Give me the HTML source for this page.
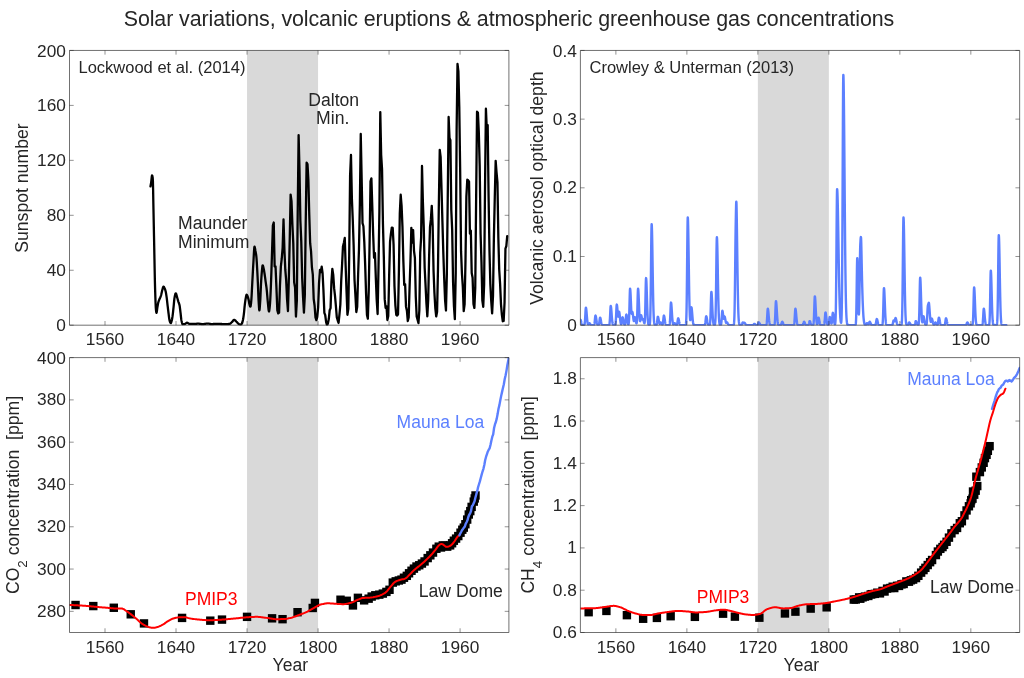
<!DOCTYPE html>
<html lang="en"><head><meta charset="utf-8"><title>Solar variations, volcanic eruptions &amp; atmospheric greenhouse gas concentrations</title>
<style>
html,body{margin:0;padding:0;background:#fff;}
body{width:1024px;height:678px;overflow:hidden;}
svg{display:block;font-family:"Liberation Sans",Arial,Helvetica,sans-serif;}
</style></head><body>
<svg width="1024" height="678" viewBox="0 0 1024 678">
<rect width="1024" height="678" fill="#fff"/>
<g>
<clipPath id="c0"><rect x="69.50" y="50.15" width="439.70" height="275.35"/></clipPath>
<rect x="247.04" y="50.45" width="71.01" height="274.75" fill="#d9d9d9"/>
<g clip-path="url(#c0)" fill="none" stroke-linejoin="round" stroke-linecap="round">
<path d="M150.46,186.45 L150.68,185.29 L150.90,184.01 L151.12,182.62 L151.34,180.87 L151.57,178.61 L151.79,176.58 L152.01,175.50 L152.23,175.65 L152.45,176.39 L152.68,177.61 L152.90,180.80 L153.12,190.47 L153.34,202.90 L153.56,214.04 L153.78,225.03 L154.01,236.30 L154.23,247.46 L154.45,258.73 L154.67,270.41 L154.89,281.15 L155.12,289.60 L155.34,296.82 L155.56,303.08 L155.78,307.58 L156.00,310.05 L156.23,311.89 L156.45,312.81 L156.67,312.43 L156.89,311.07 L157.11,309.28 L157.34,307.61 L157.56,306.29 L157.78,304.97 L158.00,303.73 L158.22,302.71 L158.45,301.91 L158.67,301.24 L158.89,300.64 L159.11,300.09 L159.33,299.54 L159.55,298.99 L159.78,298.45 L160.00,297.95 L160.22,297.47 L160.44,296.96 L160.66,296.41 L160.89,295.80 L161.11,295.06 L161.33,294.16 L161.55,293.17 L161.77,292.16 L162.00,291.19 L162.22,290.32 L162.44,289.53 L162.66,288.68 L162.88,287.86 L163.11,287.17 L163.33,286.72 L163.55,286.60 L163.77,286.74 L163.99,287.04 L164.22,287.45 L164.44,287.91 L164.66,288.38 L164.88,288.89 L165.10,289.49 L165.32,290.18 L165.55,290.98 L165.77,291.87 L165.99,292.99 L166.21,294.33 L166.43,295.82 L166.66,297.40 L166.88,299.11 L167.10,301.03 L167.32,303.05 L167.54,305.04 L167.77,306.93 L167.99,308.83 L168.21,310.69 L168.43,312.49 L168.65,314.22 L168.88,316.04 L169.10,317.81 L169.32,319.33 L169.54,320.39 L169.76,321.14 L169.99,321.82 L170.21,322.41 L170.43,322.84 L170.65,323.10 L170.87,323.10 L171.09,322.74 L171.32,322.08 L171.54,321.25 L171.76,320.39 L171.98,319.44 L172.20,318.27 L172.43,316.93 L172.65,315.45 L172.87,313.71 L173.09,311.67 L173.31,309.49 L173.54,307.34 L173.76,305.06 L173.98,302.60 L174.20,300.28 L174.42,298.41 L174.65,297.14 L174.87,295.99 L175.09,294.94 L175.31,294.10 L175.53,293.54 L175.75,293.33 L175.98,293.50 L176.20,293.98 L176.42,294.67 L176.64,295.50 L176.86,296.38 L177.09,297.24 L177.31,298.01 L177.53,298.75 L177.75,299.53 L177.97,300.32 L178.20,301.10 L178.42,301.85 L178.64,302.51 L178.86,303.10 L179.08,303.70 L179.31,304.38 L179.53,305.22 L179.75,306.40 L179.97,308.03 L180.19,309.90 L180.42,311.79 L180.64,313.69 L180.86,315.83 L181.08,317.91 L181.30,319.64 L181.52,320.80 L181.75,321.80 L181.97,322.71 L182.19,323.46 L182.41,323.99 L182.63,324.23 L182.86,324.24 L183.08,324.23 L183.30,324.21 L183.52,324.19 L183.74,324.16 L183.97,324.13 L184.19,324.10 L184.41,324.06 L184.63,324.02 L184.85,323.97 L185.08,323.91 L185.30,323.80 L185.52,323.65 L185.74,323.47 L185.96,323.29 L186.19,323.11 L186.41,322.96 L186.63,322.83 L186.85,322.75 L187.07,322.73 L187.29,322.77 L187.52,322.85 L187.74,322.97 L187.96,323.11 L188.18,323.26 L188.40,323.41 L188.63,323.56 L188.85,323.68 L189.07,323.77 L189.29,323.82 L189.51,323.84 L189.74,323.85 L189.96,323.86 L190.18,323.87 L190.40,323.89 L190.62,323.90 L190.85,323.91 L191.07,323.91 L191.29,323.92 L191.51,323.93 L191.73,323.94 L191.96,323.94 L192.18,323.95 L192.40,323.95 L192.62,323.95 L192.84,323.96 L193.06,323.96 L193.29,323.96 L193.51,323.96 L193.73,323.96 L193.95,323.96 L194.17,323.96 L194.40,323.95 L194.62,323.94 L194.84,323.92 L195.06,323.91 L195.28,323.89 L195.51,323.87 L195.73,323.85 L195.95,323.83 L196.17,323.81 L196.39,323.79 L196.62,323.77 L196.84,323.75 L197.06,323.73 L197.28,323.72 L197.50,323.71 L197.72,323.70 L197.95,323.69 L198.17,323.69 L198.39,323.69 L198.61,323.70 L198.83,323.71 L199.06,323.73 L199.28,323.75 L199.50,323.77 L199.72,323.80 L199.94,323.83 L200.17,323.86 L200.39,323.89 L200.61,323.92 L200.83,323.95 L201.05,323.98 L201.28,324.01 L201.50,324.03 L201.72,324.05 L201.94,324.07 L202.16,324.09 L202.39,324.10 L202.61,324.10 L202.83,324.10 L203.05,324.09 L203.27,324.08 L203.49,324.06 L203.72,324.04 L203.94,324.02 L204.16,323.99 L204.38,323.96 L204.60,323.93 L204.83,323.90 L205.05,323.87 L205.27,323.83 L205.49,323.80 L205.71,323.76 L205.94,323.73 L206.16,323.70 L206.38,323.67 L206.60,323.64 L206.82,323.62 L207.05,323.60 L207.27,323.58 L207.49,323.56 L207.71,323.56 L207.93,323.55 L208.16,323.56 L208.38,323.57 L208.60,323.60 L208.82,323.63 L209.04,323.67 L209.26,323.72 L209.49,323.76 L209.71,323.82 L209.93,323.87 L210.15,323.92 L210.37,323.96 L210.60,324.01 L210.82,324.04 L211.04,324.07 L211.26,324.09 L211.48,324.10 L211.71,324.10 L211.93,324.09 L212.15,324.09 L212.37,324.08 L212.59,324.06 L212.82,324.05 L213.04,324.03 L213.26,324.01 L213.48,323.99 L213.70,323.97 L213.93,323.95 L214.15,323.93 L214.37,323.91 L214.59,323.89 L214.81,323.87 L215.03,323.86 L215.26,323.85 L215.48,323.84 L215.70,323.83 L215.92,323.83 L216.14,323.83 L216.37,323.83 L216.59,323.83 L216.81,323.84 L217.03,323.84 L217.25,323.85 L217.48,323.85 L217.70,323.86 L217.92,323.87 L218.14,323.88 L218.36,323.88 L218.59,323.89 L218.81,323.90 L219.03,323.91 L219.25,323.92 L219.47,323.93 L219.69,323.94 L219.92,323.95 L220.14,323.95 L220.36,323.96 L220.58,323.97 L220.80,323.98 L221.03,323.99 L221.25,323.99 L221.47,324.00 L221.69,324.01 L221.91,324.02 L222.14,324.03 L222.36,324.04 L222.58,324.05 L222.80,324.06 L223.02,324.06 L223.25,324.07 L223.47,324.08 L223.69,324.08 L223.91,324.09 L224.13,324.09 L224.36,324.10 L224.58,324.10 L224.80,324.10 L225.02,324.10 L225.24,324.10 L225.46,324.10 L225.69,324.10 L225.91,324.09 L226.13,324.09 L226.35,324.09 L226.57,324.08 L226.80,324.08 L227.02,324.07 L227.24,324.06 L227.46,324.05 L227.68,324.05 L227.91,324.04 L228.13,324.03 L228.35,324.02 L228.57,324.00 L228.79,323.99 L229.02,323.98 L229.24,323.97 L229.46,323.94 L229.68,323.87 L229.90,323.78 L230.13,323.65 L230.35,323.49 L230.57,323.32 L230.79,323.12 L231.01,322.92 L231.23,322.70 L231.46,322.48 L231.68,322.27 L231.90,322.05 L232.12,321.84 L232.34,321.64 L232.57,321.38 L232.79,321.09 L233.01,320.78 L233.23,320.48 L233.45,320.22 L233.68,320.01 L233.90,319.88 L234.12,319.84 L234.34,319.88 L234.56,319.97 L234.79,320.10 L235.01,320.26 L235.23,320.45 L235.45,320.66 L235.67,320.88 L235.90,321.11 L236.12,321.34 L236.34,321.56 L236.56,321.77 L236.78,321.97 L237.00,322.20 L237.23,322.44 L237.45,322.69 L237.67,322.94 L237.89,323.18 L238.11,323.41 L238.34,323.62 L238.56,323.79 L238.78,323.95 L239.00,324.12 L239.22,324.28 L239.45,324.43 L239.67,324.57 L239.89,324.68 L240.11,324.75 L240.33,324.79 L240.56,324.77 L240.78,324.68 L241.00,324.54 L241.22,324.35 L241.44,324.11 L241.66,323.84 L241.89,323.55 L242.11,323.12 L242.33,322.48 L242.55,321.67 L242.77,320.77 L243.00,319.77 L243.22,318.56 L243.44,317.13 L243.66,315.56 L243.88,313.85 L244.11,311.77 L244.33,309.40 L244.55,307.06 L244.77,305.05 L244.99,303.24 L245.22,301.54 L245.44,299.99 L245.66,298.65 L245.88,297.43 L246.10,296.20 L246.33,295.21 L246.55,294.72 L246.77,294.76 L246.99,295.00 L247.21,295.38 L247.43,295.89 L247.66,296.49 L247.88,297.17 L248.10,297.90 L248.32,298.65 L248.54,299.44 L248.77,300.55 L248.99,301.87 L249.21,303.19 L249.43,304.27 L249.65,305.02 L249.88,305.72 L250.10,306.30 L250.32,306.62 L250.54,306.45 L250.76,305.33 L250.99,303.52 L251.21,301.36 L251.43,298.87 L251.65,295.24 L251.87,290.86 L252.10,286.30 L252.32,282.08 L252.54,277.98 L252.76,273.82 L252.98,269.70 L253.20,265.73 L253.43,262.01 L253.65,258.05 L253.87,253.80 L254.09,249.99 L254.31,247.37 L254.54,246.64 L254.76,247.15 L254.98,248.18 L255.20,249.48 L255.42,250.78 L255.65,251.93 L255.87,253.10 L256.09,254.46 L256.31,256.13 L256.53,258.50 L256.76,261.85 L256.98,265.72 L257.20,269.66 L257.42,273.78 L257.64,278.21 L257.87,282.89 L258.09,288.25 L258.31,294.09 L258.53,299.38 L258.75,303.29 L258.97,306.87 L259.20,309.56 L259.42,310.32 L259.64,308.99 L259.86,306.35 L260.08,303.13 L260.31,299.62 L260.53,294.81 L260.75,289.45 L260.97,284.52 L261.19,280.68 L261.42,277.22 L261.64,274.17 L261.86,271.62 L262.08,269.26 L262.30,267.05 L262.53,265.59 L262.75,265.35 L262.97,265.76 L263.19,266.52 L263.41,267.47 L263.63,268.48 L263.86,269.50 L264.08,270.70 L264.30,272.07 L264.52,273.54 L264.74,275.03 L264.97,276.57 L265.19,278.22 L265.41,279.92 L265.63,281.60 L265.85,283.19 L266.08,284.72 L266.30,286.27 L266.52,287.95 L266.74,289.89 L266.96,292.22 L267.19,294.82 L267.41,297.48 L267.63,300.03 L267.85,302.28 L268.07,304.64 L268.30,307.10 L268.52,309.29 L268.74,310.86 L268.96,311.46 L269.18,310.96 L269.40,309.64 L269.63,307.74 L269.85,305.52 L270.07,302.96 L270.29,299.25 L270.51,294.61 L270.74,289.40 L270.96,283.97 L271.18,278.25 L271.40,271.76 L271.62,264.85 L271.85,257.88 L272.07,251.04 L272.29,244.11 L272.51,237.08 L272.73,229.95 L272.87,225.62 L273.75,222.54 L274.64,266.49 L275.53,266.36 L276.42,287.41 L277.31,310.18 L278.19,313.38 L279.08,312.65 L279.97,285.32 L280.86,266.61 L281.74,258.73 L282.63,247.78 L283.52,219.47 L284.41,249.87 L285.29,269.69 L286.18,280.40 L287.07,299.47 L287.96,311.17 L288.84,278.67 L289.73,239.28 L290.62,194.60 L291.51,201.13 L292.40,224.76 L293.28,243.35 L294.17,282.37 L295.06,287.54 L295.95,316.58 L296.83,300.83 L297.72,211.34 L298.61,135.15 L299.50,170.23 L300.38,220.82 L301.27,241.38 L302.16,277.81 L303.05,297.14 L303.94,312.65 L304.82,295.54 L305.71,223.16 L306.60,162.72 L307.49,164.08 L308.37,179.83 L309.26,214.54 L310.15,243.22 L311.04,251.35 L311.92,267.47 L312.81,274.73 L313.70,298.98 L314.59,305.51 L315.48,317.32 L316.36,320.15 L317.25,316.83 L318.14,307.35 L319.03,283.35 L319.91,269.81 L320.80,272.15 L321.69,266.73 L322.58,273.26 L323.46,290.61 L324.35,312.77 L325.24,315.23 L326.13,322.12 L327.02,325.20 L327.90,323.48 L328.79,319.05 L329.68,310.18 L330.57,308.09 L331.45,281.63 L332.34,268.83 L333.23,274.61 L334.12,288.15 L335.00,295.78 L335.89,306.00 L336.78,317.08 L337.67,320.28 L338.55,322.98 L339.44,314.74 L340.33,304.77 L341.22,280.52 L342.11,264.15 L342.99,246.18 L343.88,242.73 L344.77,237.93 L345.66,266.36 L346.54,291.35 L347.43,314.74 L348.32,308.95 L349.21,255.16 L350.09,175.65 L350.98,154.97 L351.87,198.17 L352.76,219.71 L353.65,245.69 L354.53,280.03 L355.42,295.41 L356.31,312.03 L357.20,306.74 L358.08,275.84 L358.97,249.50 L359.86,203.96 L360.75,134.02 L361.63,177.56 L362.52,223.10 L363.41,226.31 L364.30,242.26 L365.19,265.41 L366.07,293.62 L366.96,314.93 L367.85,318.61 L368.74,290.40 L369.62,241.19 L370.51,181.39 L371.40,178.33 L372.29,206.84 L373.17,234.59 L374.06,257.74 L374.95,253.14 L375.84,278.44 L376.72,300.21 L377.61,314.01 L378.50,267.56 L379.39,211.75 L380.28,112.10 L381.16,154.72 L382.05,169.44 L382.94,223.71 L383.83,256.67 L384.71,299.14 L385.60,307.88 L386.49,306.19 L387.38,319.99 L388.26,316.00 L389.15,275.68 L390.04,241.95 L390.93,233.67 L391.82,227.54 L392.70,227.85 L393.59,245.17 L394.48,286.26 L395.37,305.12 L396.25,314.77 L397.14,315.54 L398.03,314.31 L398.92,270.62 L399.80,213.28 L400.69,194.73 L401.58,205.62 L402.47,227.08 L403.36,261.12 L404.24,285.03 L405.13,284.27 L406.02,306.65 L406.91,310.64 L407.79,321.06 L408.68,317.53 L409.57,287.79 L410.46,260.81 L411.34,227.85 L412.23,242.72 L413.12,230.15 L414.01,250.84 L414.90,257.90 L415.78,296.68 L416.67,316.46 L417.56,319.68 L418.45,323.05 L419.33,310.48 L420.22,252.53 L421.11,237.66 L422.00,165.91 L422.88,201.63 L423.77,227.69 L424.66,267.56 L425.55,285.19 L426.43,303.43 L427.32,316.31 L428.21,299.60 L429.10,257.28 L429.99,227.23 L430.87,219.42 L431.76,205.92 L432.65,225.70 L433.54,270.47 L434.42,292.70 L435.31,308.18 L436.20,316.46 L437.09,311.86 L437.97,269.85 L438.86,203.01 L439.75,149.81 L440.64,157.17 L441.53,189.06 L442.41,221.26 L443.30,252.38 L444.19,278.29 L445.08,300.21 L445.96,310.48 L446.85,274.30 L447.74,197.99 L448.63,116.94 L449.51,137.96 L450.40,140.16 L451.29,209.94 L452.18,229.86 L453.07,281.93 L453.95,306.10 L454.84,319.16 L455.73,273.00 L456.62,130.54 L457.50,63.91 L458.39,71.33 L459.28,106.77 L460.17,170.93 L461.05,251.15 L461.94,273.55 L462.83,286.87 L463.72,311.19 L464.60,304.46 L465.49,260.63 L466.38,196.34 L467.27,179.72 L468.16,180.27 L469.04,181.64 L469.93,233.71 L470.82,230.55 L471.71,273.00 L472.59,277.81 L473.48,303.91 L474.37,307.89 L475.26,287.42 L476.14,198.13 L477.03,111.72 L477.92,112.82 L478.81,132.33 L479.70,165.98 L480.58,233.71 L481.47,262.14 L482.36,300.61 L483.25,306.79 L484.13,284.81 L485.02,187.55 L485.91,108.70 L486.80,129.30 L487.68,125.04 L488.57,195.66 L489.46,250.19 L490.35,284.12 L491.24,301.16 L492.12,313.39 L493.01,295.66 L493.90,236.87 L494.79,197.03 L495.67,160.90 L496.56,172.71 L497.45,182.33 L498.34,237.69 L499.22,269.70 L500.11,284.26 L501.00,304.32 L501.89,314.90 L502.78,321.22 L503.66,320.94 L504.55,302.53 L505.44,248.68 L506.33,246.07 L507.21,236.04" stroke="#000" stroke-width="2.3"/>
</g>
<path d="M69.50,50.45 H508.90 V325.20 H69.50 Z" fill="none" stroke="#262626" stroke-width="0.66"/>
<path d=" M105.01,325.20 v-4.20 M105.01,50.45 v4.20 M176.02,325.20 v-4.20 M176.02,50.45 v4.20 M247.04,325.20 v-4.20 M247.04,50.45 v4.20 M318.05,325.20 v-4.20 M318.05,50.45 v4.20 M389.06,325.20 v-4.20 M389.06,50.45 v4.20 M460.08,325.20 v-4.20 M460.08,50.45 v4.20 M69.50,325.20 h4.20 M508.90,325.20 h-4.20 M69.50,270.25 h4.20 M508.90,270.25 h-4.20 M69.50,215.30 h4.20 M508.90,215.30 h-4.20 M69.50,160.35 h4.20 M508.90,160.35 h-4.20 M69.50,105.40 h4.20 M508.90,105.40 h-4.20 M69.50,50.45 h4.20 M508.90,50.45 h-4.20" fill="none" stroke="#262626" stroke-width="0.5"/>
<g font-size="17.3" fill="#262626">
<text x="105.01" y="345.40" text-anchor="middle">1560</text>
<text x="176.02" y="345.40" text-anchor="middle">1640</text>
<text x="247.04" y="345.40" text-anchor="middle">1720</text>
<text x="318.05" y="345.40" text-anchor="middle">1800</text>
<text x="389.06" y="345.40" text-anchor="middle">1880</text>
<text x="460.08" y="345.40" text-anchor="middle">1960</text>
<text x="65.90" y="330.70" text-anchor="end">0</text>
<text x="65.90" y="275.75" text-anchor="end">40</text>
<text x="65.90" y="220.80" text-anchor="end">80</text>
<text x="65.90" y="165.85" text-anchor="end">120</text>
<text x="65.90" y="110.90" text-anchor="end">160</text>
<text x="65.90" y="56.75" text-anchor="end">200</text>
</g>
</g>
<g>
<clipPath id="c1"><rect x="580.40" y="50.15" width="439.55" height="275.35"/></clipPath>
<rect x="757.87" y="50.45" width="70.99" height="274.75" fill="#d9d9d9"/>
<g clip-path="url(#c1)" fill="none" stroke-linejoin="round" stroke-linecap="round">
<path d="M580.40,319.70 L580.49,319.74 L580.58,319.83 L580.67,319.97 L580.75,320.17 L580.84,320.42 L580.93,320.70 L581.02,321.01 L581.11,321.35 L581.20,321.69 L581.29,322.04 L581.38,322.39 L581.46,322.73 L581.55,323.05 L581.64,323.34 L581.73,323.62 L581.82,323.87 L581.91,324.09 L582.00,324.29 L582.09,324.46 L582.17,324.60 L582.26,324.72 L582.35,324.82 L582.44,324.91 L582.53,324.97 L582.62,325.03 L582.71,325.07 L582.80,325.10 L582.88,325.13 L582.97,325.15 L583.06,325.16 L583.15,325.17 L583.24,325.18 L583.33,325.19 L583.42,325.19 L583.51,325.19 L583.59,325.19 L583.68,325.19 L583.77,325.19 L583.86,325.18 L583.95,325.17 L584.04,325.14 L584.13,325.10 L584.22,325.04 L584.30,324.94 L584.39,324.79 L584.48,324.57 L584.57,324.26 L584.66,323.83 L584.75,323.26 L584.84,322.51 L584.93,321.57 L585.01,320.43 L585.10,319.09 L585.19,317.58 L585.28,315.94 L585.37,314.23 L585.46,312.55 L585.55,310.98 L585.64,309.62 L585.72,308.57 L585.81,307.91 L585.90,307.68 L585.99,307.78 L586.08,308.07 L586.17,308.54 L586.26,309.17 L586.35,309.95 L586.43,310.85 L586.52,311.85 L586.61,312.91 L586.70,314.02 L586.79,315.13 L586.88,316.24 L586.97,317.31 L587.06,318.33 L587.14,319.29 L587.23,320.16 L587.32,320.96 L587.41,321.66 L587.50,322.28 L587.59,322.81 L587.68,323.26 L587.77,323.63 L587.85,323.93 L587.94,324.16 L588.03,324.32 L588.12,324.42 L588.21,324.47 L588.30,324.46 L588.39,324.41 L588.48,324.32 L588.56,324.18 L588.65,324.03 L588.74,323.85 L588.83,323.67 L588.92,323.50 L589.01,323.35 L589.10,323.23 L589.18,323.16 L589.27,323.13 L589.36,323.15 L589.45,323.18 L589.54,323.24 L589.63,323.31 L589.72,323.41 L589.81,323.51 L589.89,323.63 L589.98,323.75 L590.07,323.88 L590.16,324.02 L590.25,324.15 L590.34,324.27 L590.43,324.39 L590.52,324.50 L590.60,324.61 L590.69,324.70 L590.78,324.78 L590.87,324.86 L590.96,324.92 L591.05,324.98 L591.14,325.02 L591.23,325.06 L591.31,325.09 L591.40,325.12 L591.49,325.14 L591.58,325.15 L591.67,325.16 L591.76,325.17 L591.85,325.18 L591.94,325.19 L592.02,325.19 L592.11,325.19 L592.20,325.20 L592.29,325.20 L592.38,325.20 L592.47,325.20 L592.56,325.20 L592.65,325.20 L592.73,325.20 L592.82,325.20 L592.91,325.20 L593.00,325.20 L593.09,325.20 L593.18,325.20 L593.27,325.20 L593.36,325.19 L593.44,325.19 L593.53,325.18 L593.62,325.17 L593.71,325.15 L593.80,325.11 L593.89,325.06 L593.98,324.98 L594.07,324.86 L594.15,324.68 L594.24,324.45 L594.33,324.13 L594.42,323.72 L594.51,323.21 L594.60,322.58 L594.69,321.85 L594.78,321.02 L594.86,320.12 L594.95,319.18 L595.04,318.25 L595.13,317.39 L595.22,316.65 L595.31,316.07 L595.40,315.71 L595.49,315.58 L595.57,315.64 L595.66,315.79 L595.75,316.05 L595.84,316.40 L595.93,316.83 L596.02,317.32 L596.11,317.87 L596.20,318.45 L596.28,319.06 L596.37,319.67 L596.46,320.28 L596.55,320.87 L596.64,321.43 L596.73,321.95 L596.82,322.44 L596.91,322.87 L596.99,323.26 L597.08,323.60 L597.17,323.90 L597.26,324.15 L597.35,324.36 L597.44,324.54 L597.53,324.69 L597.62,324.80 L597.70,324.90 L597.79,324.97 L597.88,325.03 L597.97,325.07 L598.06,325.10 L598.15,325.12 L598.24,325.13 L598.32,325.13 L598.41,325.11 L598.50,325.07 L598.59,325.01 L598.68,324.92 L598.77,324.79 L598.86,324.61 L598.95,324.36 L599.03,324.04 L599.12,323.63 L599.21,323.14 L599.30,322.57 L599.39,321.91 L599.48,321.21 L599.57,320.47 L599.66,319.74 L599.74,319.06 L599.83,318.48 L599.92,318.03 L600.01,317.74 L600.10,317.64 L600.19,317.69 L600.28,317.81 L600.37,318.01 L600.45,318.29 L600.54,318.62 L600.63,319.01 L600.72,319.44 L600.81,319.90 L600.90,320.38 L600.99,320.86 L601.08,321.34 L601.16,321.80 L601.25,322.24 L601.34,322.65 L601.43,323.03 L601.52,323.37 L601.61,323.68 L601.70,323.94 L601.79,324.18 L601.87,324.38 L601.96,324.54 L602.05,324.68 L602.14,324.80 L602.23,324.89 L602.32,324.96 L602.41,325.02 L602.50,325.07 L602.58,325.10 L602.67,325.13 L602.76,325.15 L602.85,325.16 L602.94,325.17 L603.03,325.18 L603.12,325.19 L603.21,325.19 L603.29,325.19 L603.38,325.20 L603.47,325.20 L603.56,325.20 L603.65,325.20 L603.74,325.20 L603.83,325.20 L603.92,325.20 L604.00,325.20 L604.09,325.20 L604.18,325.20 L604.27,325.20 L604.36,325.20 L604.45,325.20 L604.54,325.20 L604.63,325.20 L604.71,325.20 L604.80,325.20 L604.89,325.20 L604.98,325.20 L605.07,325.20 L605.16,325.20 L605.25,325.20 L605.34,325.20 L605.42,325.20 L605.51,325.20 L605.60,325.20 L605.69,325.20 L605.78,325.20 L605.87,325.20 L605.96,325.20 L606.05,325.20 L606.13,325.20 L606.22,325.20 L606.31,325.20 L606.40,325.20 L606.49,325.20 L606.58,325.20 L606.67,325.20 L606.75,325.20 L606.84,325.20 L606.93,325.20 L607.02,325.20 L607.11,325.20 L607.20,325.20 L607.29,325.20 L607.38,325.20 L607.46,325.20 L607.55,325.20 L607.64,325.20 L607.73,325.20 L607.82,325.20 L607.91,325.20 L608.00,325.20 L608.09,325.20 L608.17,325.20 L608.26,325.20 L608.35,325.20 L608.44,325.20 L608.53,325.19 L608.62,325.19 L608.71,325.18 L608.80,325.16 L608.88,325.14 L608.97,325.09 L609.06,325.02 L609.15,324.92 L609.24,324.75 L609.33,324.51 L609.42,324.17 L609.51,323.70 L609.59,323.07 L609.68,322.24 L609.77,321.21 L609.86,319.96 L609.95,318.49 L610.04,316.83 L610.13,315.03 L610.22,313.16 L610.30,311.31 L610.39,309.58 L610.48,308.09 L610.57,306.94 L610.66,306.22 L610.75,305.97 L610.84,306.07 L610.93,306.39 L611.01,306.90 L611.10,307.60 L611.19,308.46 L611.28,309.45 L611.37,310.54 L611.46,311.71 L611.55,312.92 L611.64,314.15 L611.72,315.36 L611.81,316.54 L611.90,317.66 L611.99,318.71 L612.08,319.67 L612.17,320.54 L612.26,321.32 L612.35,322.00 L612.43,322.60 L612.52,323.10 L612.61,323.53 L612.70,323.88 L612.79,324.17 L612.88,324.41 L612.97,324.60 L613.06,324.75 L613.14,324.86 L613.23,324.95 L613.32,325.02 L613.41,325.07 L613.50,325.11 L613.59,325.13 L613.68,325.15 L613.77,325.17 L613.85,325.18 L613.94,325.19 L614.03,325.19 L614.12,325.19 L614.21,325.20 L614.30,325.20 L614.39,325.20 L614.48,325.20 L614.56,325.19 L614.65,325.19 L614.74,325.18 L614.83,325.16 L614.92,325.13 L615.01,325.09 L615.10,325.01 L615.19,324.90 L615.27,324.72 L615.36,324.46 L615.45,324.10 L615.54,323.59 L615.63,322.91 L615.72,322.03 L615.81,320.93 L615.89,319.59 L615.98,318.01 L616.07,316.24 L616.16,314.31 L616.25,312.30 L616.34,310.31 L616.43,308.47 L616.52,306.87 L616.60,305.64 L616.69,304.86 L616.78,304.59 L616.87,304.70 L616.96,305.04 L617.05,305.58 L617.14,306.32 L617.23,307.22 L617.31,308.25 L617.40,309.37 L617.49,310.55 L617.58,311.74 L617.67,312.89 L617.76,313.96 L617.85,314.90 L617.94,315.67 L618.02,316.24 L618.11,316.57 L618.20,316.66 L618.29,316.49 L618.38,316.10 L618.47,315.51 L618.56,314.78 L618.65,313.98 L618.73,313.19 L618.82,312.49 L618.91,311.96 L619.00,311.67 L619.09,311.66 L619.18,311.86 L619.27,312.17 L619.36,312.59 L619.44,313.12 L619.53,313.74 L619.62,314.44 L619.71,315.20 L619.80,316.01 L619.89,316.84 L619.98,317.68 L620.07,318.51 L620.15,319.32 L620.24,320.08 L620.33,320.79 L620.42,321.44 L620.51,322.03 L620.60,322.55 L620.69,323.01 L620.78,323.39 L620.86,323.70 L620.95,323.95 L621.04,324.12 L621.13,324.22 L621.22,324.24 L621.31,324.17 L621.40,324.01 L621.49,323.76 L621.57,323.39 L621.66,322.93 L621.75,322.36 L621.84,321.70 L621.93,320.98 L622.02,320.22 L622.11,319.47 L622.20,318.77 L622.28,318.16 L622.37,317.69 L622.46,317.40 L622.55,317.30 L622.64,317.34 L622.73,317.47 L622.82,317.68 L622.91,317.97 L622.99,318.32 L623.08,318.73 L623.17,319.18 L623.26,319.66 L623.35,320.16 L623.44,320.66 L623.53,321.16 L623.62,321.64 L623.70,322.10 L623.79,322.53 L623.88,322.93 L623.97,323.29 L624.06,323.61 L624.15,323.88 L624.24,324.13 L624.32,324.33 L624.41,324.49 L624.50,324.62 L624.59,324.72 L624.68,324.78 L624.77,324.80 L624.86,324.77 L624.95,324.68 L625.03,324.53 L625.12,324.29 L625.21,323.96 L625.30,323.53 L625.39,322.97 L625.48,322.28 L625.57,321.47 L625.66,320.56 L625.74,319.57 L625.83,318.53 L625.92,317.51 L626.01,316.55 L626.10,315.73 L626.19,315.09 L626.28,314.69 L626.37,314.55 L626.45,314.61 L626.54,314.79 L626.63,315.07 L626.72,315.46 L626.81,315.93 L626.90,316.48 L626.99,317.08 L627.08,317.73 L627.16,318.40 L627.25,319.08 L627.34,319.75 L627.43,320.41 L627.52,321.03 L627.61,321.60 L627.70,322.14 L627.79,322.62 L627.87,323.04 L627.96,323.41 L628.05,323.72 L628.14,323.97 L628.23,324.16 L628.32,324.27 L628.41,324.30 L628.50,324.22 L628.58,324.02 L628.67,323.65 L628.76,323.06 L628.85,322.22 L628.94,321.06 L629.03,319.53 L629.12,317.60 L629.21,315.25 L629.29,312.48 L629.38,309.35 L629.47,305.94 L629.56,302.40 L629.65,298.90 L629.74,295.63 L629.83,292.81 L629.92,290.64 L630.00,289.26 L630.09,288.79 L630.18,288.99 L630.27,289.59 L630.36,290.55 L630.45,291.86 L630.54,293.46 L630.63,295.31 L630.71,297.34 L630.80,299.48 L630.89,301.67 L630.98,303.84 L631.07,305.92 L631.16,307.84 L631.25,309.55 L631.34,311.01 L631.42,312.17 L631.51,313.02 L631.60,313.55 L631.69,313.77 L631.78,313.74 L631.87,313.49 L631.96,313.11 L632.05,312.67 L632.13,312.26 L632.22,311.97 L632.31,311.85 L632.40,311.98 L632.49,312.26 L632.58,312.63 L632.67,313.09 L632.76,313.63 L632.84,314.25 L632.93,314.93 L633.02,315.66 L633.11,316.42 L633.20,317.19 L633.29,317.95 L633.38,318.67 L633.46,319.34 L633.55,319.92 L633.64,320.40 L633.73,320.77 L633.82,320.99 L633.91,321.07 L634.00,320.99 L634.09,320.77 L634.17,320.42 L634.26,319.95 L634.35,319.41 L634.44,318.83 L634.53,318.28 L634.62,317.79 L634.71,317.41 L634.80,317.19 L634.88,317.14 L634.97,317.23 L635.06,317.39 L635.15,317.62 L635.24,317.93 L635.33,318.29 L635.42,318.71 L635.51,319.16 L635.59,319.65 L635.68,320.15 L635.77,320.65 L635.86,321.15 L635.95,321.62 L636.04,322.06 L636.13,322.47 L636.22,322.81 L636.30,323.09 L636.39,323.27 L636.48,323.35 L636.57,323.28 L636.66,323.04 L636.75,322.56 L636.84,321.82 L636.93,320.74 L637.01,319.28 L637.10,317.41 L637.19,315.10 L637.28,312.37 L637.37,309.26 L637.46,305.88 L637.55,302.35 L637.64,298.86 L637.72,295.61 L637.81,292.80 L637.90,290.63 L637.99,289.26 L638.08,288.79 L638.17,288.99 L638.26,289.59 L638.35,290.56 L638.43,291.88 L638.52,293.50 L638.61,295.38 L638.70,297.45 L638.79,299.66 L638.88,301.96 L638.97,304.28 L639.06,306.57 L639.14,308.79 L639.23,310.89 L639.32,312.85 L639.41,314.64 L639.50,316.24 L639.59,317.63 L639.68,318.80 L639.77,319.74 L639.85,320.45 L639.94,320.93 L640.03,321.18 L640.12,321.19 L640.21,320.99 L640.30,320.59 L640.39,320.01 L640.48,319.29 L640.56,318.49 L640.65,317.66 L640.74,316.86 L640.83,316.16 L640.92,315.62 L641.01,315.28 L641.10,315.17 L641.19,315.24 L641.27,315.40 L641.36,315.66 L641.45,315.99 L641.54,316.39 L641.63,316.84 L641.72,317.31 L641.81,317.78 L641.89,318.23 L641.98,318.63 L642.07,318.97 L642.16,319.22 L642.25,319.38 L642.34,319.45 L642.43,319.43 L642.52,319.35 L642.60,319.22 L642.69,319.08 L642.78,318.96 L642.87,318.90 L642.96,318.91 L643.05,319.02 L643.14,319.20 L643.23,319.42 L643.31,319.66 L643.40,319.94 L643.49,320.24 L643.58,320.57 L643.67,320.91 L643.76,321.27 L643.85,321.63 L643.94,321.98 L644.02,322.32 L644.11,322.62 L644.20,322.88 L644.29,323.08 L644.38,323.18 L644.47,323.17 L644.56,322.99 L644.65,322.60 L644.73,321.93 L644.82,320.92 L644.91,319.49 L645.00,317.58 L645.09,315.14 L645.18,312.14 L645.27,308.60 L645.36,304.57 L645.44,300.19 L645.53,295.63 L645.62,291.11 L645.71,286.90 L645.80,283.26 L645.89,280.45 L645.98,278.68 L646.07,278.07 L646.15,278.33 L646.24,279.11 L646.33,280.37 L646.42,282.08 L646.51,284.17 L646.60,286.60 L646.69,289.28 L646.78,292.15 L646.86,295.12 L646.95,298.12 L647.04,301.10 L647.13,303.98 L647.22,306.73 L647.31,309.29 L647.40,311.65 L647.49,313.79 L647.57,315.70 L647.66,317.37 L647.75,318.82 L647.84,320.06 L647.93,321.11 L648.02,321.97 L648.11,322.69 L648.20,323.26 L648.28,323.72 L648.37,324.09 L648.46,324.37 L648.55,324.59 L648.64,324.75 L648.73,324.88 L648.82,324.97 L648.91,325.03 L648.99,325.08 L649.08,325.10 L649.17,325.11 L649.26,325.10 L649.35,325.07 L649.44,325.01 L649.53,324.91 L649.62,324.74 L649.70,324.47 L649.79,324.08 L649.88,323.49 L649.97,322.66 L650.06,321.50 L650.15,319.91 L650.24,317.79 L650.33,315.04 L650.41,311.54 L650.50,307.20 L650.59,301.97 L650.68,295.83 L650.77,288.81 L650.86,281.02 L650.95,272.65 L651.03,263.96 L651.12,255.27 L651.21,246.96 L651.30,239.44 L651.39,233.09 L651.48,228.27 L651.57,225.25 L651.66,224.23 L651.74,224.69 L651.83,226.04 L651.92,228.27 L652.01,231.30 L652.10,235.05 L652.19,239.44 L652.28,244.35 L652.37,249.67 L652.45,255.27 L652.54,261.04 L652.63,266.87 L652.72,272.65 L652.81,278.28 L652.90,283.69 L652.99,288.81 L653.08,293.58 L653.16,297.97 L653.25,301.97 L653.34,305.56 L653.43,308.74 L653.52,311.54 L653.61,313.96 L653.70,316.03 L653.79,317.79 L653.87,319.27 L653.96,320.49 L654.05,321.50 L654.14,322.32 L654.23,322.97 L654.32,323.50 L654.41,323.91 L654.50,324.23 L654.58,324.48 L654.67,324.67 L654.76,324.81 L654.85,324.92 L654.94,325.00 L655.03,325.06 L655.12,325.10 L655.21,325.13 L655.29,325.15 L655.38,325.17 L655.47,325.18 L655.56,325.18 L655.65,325.19 L655.74,325.19 L655.83,325.19 L655.92,325.18 L656.00,325.17 L656.09,325.15 L656.18,325.12 L656.27,325.07 L656.36,325.00 L656.45,324.89 L656.54,324.74 L656.63,324.53 L656.71,324.25 L656.80,323.89 L656.89,323.43 L656.98,322.88 L657.07,322.23 L657.16,321.50 L657.25,320.70 L657.34,319.87 L657.42,319.05 L657.51,318.28 L657.60,317.62 L657.69,317.11 L657.78,316.79 L657.87,316.68 L657.96,316.73 L658.05,316.87 L658.13,317.10 L658.22,317.41 L658.31,317.78 L658.40,318.22 L658.49,318.71 L658.58,319.22 L658.67,319.76 L658.76,320.30 L658.84,320.83 L658.93,321.34 L659.02,321.82 L659.11,322.26 L659.20,322.65 L659.29,322.99 L659.38,323.27 L659.46,323.48 L659.55,323.63 L659.64,323.70 L659.73,323.71 L659.82,323.66 L659.91,323.55 L660.00,323.40 L660.09,323.21 L660.17,323.01 L660.26,322.82 L660.35,322.65 L660.44,322.51 L660.53,322.43 L660.62,322.41 L660.71,322.44 L660.80,322.49 L660.88,322.57 L660.97,322.68 L661.06,322.80 L661.15,322.94 L661.24,323.10 L661.33,323.27 L661.42,323.44 L661.51,323.62 L661.59,323.79 L661.68,323.96 L661.77,324.12 L661.86,324.26 L661.95,324.39 L662.04,324.50 L662.13,324.59 L662.22,324.66 L662.30,324.69 L662.39,324.68 L662.48,324.62 L662.57,324.50 L662.66,324.30 L662.75,324.02 L662.84,323.64 L662.93,323.14 L663.01,322.53 L663.10,321.81 L663.19,320.99 L663.28,320.10 L663.37,319.17 L663.46,318.24 L663.55,317.38 L663.64,316.64 L663.72,316.07 L663.81,315.71 L663.90,315.58 L663.99,315.64 L664.08,315.79 L664.17,316.05 L664.26,316.40 L664.35,316.83 L664.43,317.32 L664.52,317.87 L664.61,318.45 L664.70,319.06 L664.79,319.67 L664.88,320.28 L664.97,320.87 L665.06,321.43 L665.14,321.95 L665.23,322.44 L665.32,322.87 L665.41,323.26 L665.50,323.60 L665.59,323.90 L665.68,324.15 L665.77,324.36 L665.85,324.54 L665.94,324.69 L666.03,324.80 L666.12,324.90 L666.21,324.97 L666.30,325.03 L666.39,325.08 L666.48,325.11 L666.56,325.13 L666.65,325.15 L666.74,325.17 L666.83,325.18 L666.92,325.18 L667.01,325.19 L667.10,325.19 L667.19,325.20 L667.27,325.20 L667.36,325.20 L667.45,325.20 L667.54,325.20 L667.63,325.20 L667.72,325.20 L667.81,325.20 L667.90,325.20 L667.98,325.20 L668.07,325.20 L668.16,325.20 L668.25,325.20 L668.34,325.20 L668.43,325.20 L668.52,325.20 L668.60,325.20 L668.69,325.20 L668.78,325.19 L668.87,325.19 L668.96,325.18 L669.05,325.16 L669.14,325.13 L669.23,325.08 L669.31,324.99 L669.40,324.86 L669.49,324.67 L669.58,324.39 L669.67,323.99 L669.76,323.43 L669.85,322.68 L669.94,321.72 L670.02,320.50 L670.11,319.03 L670.20,317.30 L670.29,315.34 L670.38,313.22 L670.47,311.01 L670.56,308.83 L670.65,306.79 L670.73,305.04 L670.82,303.68 L670.91,302.83 L671.00,302.53 L671.09,302.66 L671.18,303.03 L671.27,303.64 L671.36,304.46 L671.44,305.46 L671.53,306.63 L671.62,307.92 L671.71,309.30 L671.80,310.73 L671.89,312.17 L671.98,313.61 L672.07,314.99 L672.15,316.31 L672.24,317.55 L672.33,318.68 L672.42,319.71 L672.51,320.62 L672.60,321.43 L672.69,322.12 L672.78,322.71 L672.86,323.20 L672.95,323.60 L673.04,323.92 L673.13,324.16 L673.22,324.33 L673.31,324.44 L673.40,324.48 L673.49,324.48 L673.57,324.42 L673.66,324.33 L673.75,324.19 L673.84,324.03 L673.93,323.86 L674.02,323.67 L674.11,323.50 L674.20,323.35 L674.28,323.23 L674.37,323.16 L674.46,323.13 L674.55,323.15 L674.64,323.18 L674.73,323.24 L674.82,323.31 L674.91,323.41 L674.99,323.51 L675.08,323.63 L675.17,323.75 L675.26,323.88 L675.35,324.02 L675.44,324.15 L675.53,324.27 L675.62,324.39 L675.70,324.50 L675.79,324.61 L675.88,324.70 L675.97,324.78 L676.06,324.85 L676.15,324.91 L676.24,324.96 L676.33,325.00 L676.41,325.02 L676.50,325.03 L676.59,325.01 L676.68,324.98 L676.77,324.91 L676.86,324.80 L676.95,324.64 L677.03,324.42 L677.12,324.13 L677.21,323.77 L677.30,323.32 L677.39,322.80 L677.48,322.21 L677.57,321.57 L677.66,320.90 L677.74,320.24 L677.83,319.62 L677.92,319.09 L678.01,318.68 L678.10,318.42 L678.19,318.33 L678.28,318.37 L678.37,318.48 L678.45,318.67 L678.54,318.91 L678.63,319.22 L678.72,319.57 L678.81,319.96 L678.90,320.38 L678.99,320.81 L679.08,321.25 L679.16,321.69 L679.25,322.11 L679.34,322.51 L679.43,322.88 L679.52,323.23 L679.61,323.54 L679.70,323.81 L679.79,324.06 L679.87,324.27 L679.96,324.45 L680.05,324.60 L680.14,324.73 L680.23,324.83 L680.32,324.92 L680.41,324.98 L680.50,325.04 L680.58,325.08 L680.67,325.11 L680.76,325.13 L680.85,325.15 L680.94,325.17 L681.03,325.18 L681.12,325.18 L681.21,325.19 L681.29,325.19 L681.38,325.19 L681.47,325.20 L681.56,325.20 L681.65,325.20 L681.74,325.20 L681.83,325.20 L681.92,325.20 L682.00,325.20 L682.09,325.20 L682.18,325.20 L682.27,325.20 L682.36,325.20 L682.45,325.20 L682.54,325.20 L682.63,325.20 L682.71,325.20 L682.80,325.20 L682.89,325.20 L682.98,325.20 L683.07,325.20 L683.16,325.20 L683.25,325.20 L683.34,325.20 L683.42,325.20 L683.51,325.20 L683.60,325.20 L683.69,325.20 L683.78,325.20 L683.87,325.20 L683.96,325.20 L684.05,325.20 L684.13,325.20 L684.22,325.20 L684.31,325.20 L684.40,325.20 L684.49,325.20 L684.58,325.20 L684.67,325.20 L684.76,325.20 L684.84,325.20 L684.93,325.20 L685.02,325.19 L685.11,325.19 L685.20,325.18 L685.29,325.16 L685.38,325.14 L685.47,325.09 L685.55,325.02 L685.64,324.90 L685.73,324.71 L685.82,324.43 L685.91,324.00 L686.00,323.38 L686.09,322.49 L686.17,321.25 L686.26,319.55 L686.35,317.29 L686.44,314.34 L686.53,310.61 L686.62,305.98 L686.71,300.39 L686.80,293.83 L686.88,286.33 L686.97,278.01 L687.06,269.07 L687.15,259.79 L687.24,250.51 L687.33,241.64 L687.42,233.60 L687.51,226.82 L687.59,221.67 L687.68,218.46 L687.77,217.36 L687.86,217.85 L687.95,219.30 L688.04,221.67 L688.13,224.91 L688.22,228.92 L688.30,233.60 L688.39,238.85 L688.48,244.53 L688.57,250.51 L688.66,256.68 L688.75,262.90 L688.84,269.07 L688.93,275.09 L689.01,280.86 L689.10,286.33 L689.19,291.42 L689.28,296.11 L689.37,300.37 L689.46,304.19 L689.55,307.57 L689.64,310.51 L689.72,313.03 L689.81,315.14 L689.90,316.87 L689.99,318.23 L690.08,319.22 L690.17,319.85 L690.26,320.14 L690.35,320.08 L690.43,319.68 L690.52,318.96 L690.61,317.94 L690.70,316.66 L690.79,315.19 L690.88,313.60 L690.97,312.00 L691.06,310.48 L691.14,309.16 L691.23,308.14 L691.32,307.50 L691.41,307.29 L691.50,307.40 L691.59,307.71 L691.68,308.19 L691.77,308.85 L691.85,309.64 L691.94,310.57 L692.03,311.58 L692.12,312.67 L692.21,313.80 L692.30,314.94 L692.39,316.06 L692.48,317.16 L692.56,318.20 L692.65,319.17 L692.74,320.07 L692.83,320.88 L692.92,321.60 L693.01,322.23 L693.10,322.78 L693.19,323.25 L693.27,323.65 L693.36,323.98 L693.45,324.25 L693.54,324.47 L693.63,324.64 L693.72,324.78 L693.81,324.89 L693.90,324.97 L693.98,325.03 L694.07,325.08 L694.16,325.11 L694.25,325.14 L694.34,325.16 L694.43,325.17 L694.52,325.18 L694.60,325.19 L694.69,325.19 L694.78,325.19 L694.87,325.20 L694.96,325.20 L695.05,325.20 L695.14,325.20 L695.23,325.20 L695.31,325.20 L695.40,325.20 L695.49,325.20 L695.58,325.20 L695.67,325.20 L695.76,325.20 L695.85,325.20 L695.94,325.20 L696.02,325.20 L696.11,325.20 L696.20,325.20 L696.29,325.20 L696.38,325.20 L696.47,325.20 L696.56,325.20 L696.65,325.20 L696.73,325.20 L696.82,325.20 L696.91,325.20 L697.00,325.20 L697.09,325.20 L697.18,325.20 L697.27,325.20 L697.36,325.20 L697.44,325.20 L697.53,325.20 L697.62,325.20 L697.71,325.20 L697.80,325.20 L697.89,325.20 L697.98,325.20 L698.07,325.20 L698.15,325.20 L698.24,325.20 L698.33,325.20 L698.42,325.20 L698.51,325.20 L698.60,325.20 L698.69,325.20 L698.78,325.20 L698.86,325.20 L698.95,325.20 L699.04,325.20 L699.13,325.20 L699.22,325.20 L699.31,325.20 L699.40,325.20 L699.49,325.20 L699.57,325.20 L699.66,325.20 L699.75,325.20 L699.84,325.20 L699.93,325.20 L700.02,325.20 L700.11,325.20 L700.20,325.20 L700.28,325.20 L700.37,325.20 L700.46,325.20 L700.55,325.20 L700.64,325.20 L700.73,325.20 L700.82,325.20 L700.91,325.20 L700.99,325.20 L701.08,325.20 L701.17,325.20 L701.26,325.20 L701.35,325.20 L701.44,325.20 L701.53,325.20 L701.62,325.20 L701.70,325.20 L701.79,325.20 L701.88,325.20 L701.97,325.20 L702.06,325.20 L702.15,325.20 L702.24,325.20 L702.33,325.20 L702.41,325.20 L702.50,325.20 L702.59,325.20 L702.68,325.20 L702.77,325.20 L702.86,325.20 L702.95,325.20 L703.04,325.20 L703.12,325.20 L703.21,325.20 L703.30,325.20 L703.39,325.20 L703.48,325.20 L703.57,325.20 L703.66,325.20 L703.74,325.20 L703.83,325.20 L703.92,325.20 L704.01,325.20 L704.10,325.20 L704.19,325.19 L704.28,325.18 L704.37,325.17 L704.45,325.15 L704.54,325.12 L704.63,325.07 L704.72,324.99 L704.81,324.88 L704.90,324.72 L704.99,324.50 L705.08,324.21 L705.16,323.83 L705.25,323.35 L705.34,322.77 L705.43,322.09 L705.52,321.32 L705.61,320.48 L705.70,319.61 L705.79,318.75 L705.87,317.95 L705.96,317.26 L706.05,316.72 L706.14,316.39 L706.23,316.27 L706.32,316.32 L706.41,316.47 L706.50,316.70 L706.58,317.03 L706.67,317.43 L706.76,317.89 L706.85,318.39 L706.94,318.94 L707.03,319.50 L707.12,320.07 L707.21,320.63 L707.29,321.18 L707.38,321.70 L707.47,322.19 L707.56,322.63 L707.65,323.04 L707.74,323.40 L707.83,323.72 L707.92,323.99 L708.00,324.23 L708.09,324.42 L708.18,324.59 L708.27,324.72 L708.36,324.83 L708.45,324.92 L708.54,324.99 L708.63,325.04 L708.71,325.08 L708.80,325.11 L708.89,325.14 L708.98,325.15 L709.07,325.16 L709.16,325.17 L709.25,325.17 L709.34,325.16 L709.42,325.13 L709.51,325.09 L709.60,325.01 L709.69,324.89 L709.78,324.71 L709.87,324.42 L709.96,324.01 L710.05,323.41 L710.13,322.60 L710.22,321.50 L710.31,320.08 L710.40,318.30 L710.49,316.13 L710.58,313.58 L710.67,310.71 L710.76,307.59 L710.84,304.34 L710.93,301.13 L711.02,298.15 L711.11,295.57 L711.20,293.58 L711.29,292.32 L711.38,291.89 L711.47,292.07 L711.55,292.62 L711.64,293.51 L711.73,294.71 L711.82,296.20 L711.91,297.91 L712.00,299.81 L712.09,301.83 L712.17,303.93 L712.26,306.06 L712.35,308.16 L712.44,310.20 L712.53,312.14 L712.62,313.95 L712.71,315.62 L712.80,317.13 L712.88,318.48 L712.97,319.67 L713.06,320.69 L713.15,321.57 L713.24,322.31 L713.33,322.92 L713.42,323.42 L713.51,323.83 L713.59,324.16 L713.68,324.41 L713.77,324.61 L713.86,324.77 L713.95,324.88 L714.04,324.97 L714.13,325.03 L714.22,325.08 L714.30,325.10 L714.39,325.12 L714.48,325.11 L714.57,325.09 L714.66,325.03 L714.75,324.94 L714.84,324.79 L714.93,324.57 L715.01,324.22 L715.10,323.71 L715.19,322.99 L715.28,321.98 L715.37,320.59 L715.46,318.75 L715.55,316.35 L715.64,313.30 L715.72,309.53 L715.81,304.97 L715.90,299.62 L715.99,293.51 L716.08,286.73 L716.17,279.44 L716.26,271.87 L716.35,264.31 L716.43,257.08 L716.52,250.52 L716.61,244.99 L716.70,240.80 L716.79,238.17 L716.88,237.28 L716.97,237.68 L717.06,238.86 L717.14,240.80 L717.23,243.43 L717.32,246.70 L717.41,250.52 L717.50,254.80 L717.59,259.43 L717.68,264.31 L717.77,269.34 L717.85,274.41 L717.94,279.44 L718.03,284.35 L718.12,289.06 L718.21,293.51 L718.30,297.67 L718.39,301.49 L718.48,304.97 L718.56,308.10 L718.65,310.87 L718.74,313.30 L718.83,315.41 L718.92,317.22 L719.01,318.75 L719.10,320.03 L719.19,321.10 L719.27,321.98 L719.36,322.69 L719.45,323.26 L719.54,323.72 L719.63,324.07 L719.72,324.35 L719.81,324.57 L719.90,324.73 L719.98,324.86 L720.07,324.95 L720.16,325.02 L720.25,325.07 L720.34,325.10 L720.43,325.11 L720.52,325.11 L720.61,325.09 L720.69,325.05 L720.78,324.97 L720.87,324.85 L720.96,324.68 L721.05,324.42 L721.14,324.07 L721.23,323.60 L721.31,322.98 L721.40,322.21 L721.49,321.27 L721.58,320.17 L721.67,318.93 L721.76,317.57 L721.85,316.17 L721.94,314.78 L722.02,313.49 L722.11,312.37 L722.20,311.51 L722.29,310.96 L722.38,310.77 L722.47,310.85 L722.56,311.08 L722.65,311.46 L722.73,311.97 L722.82,312.60 L722.91,313.31 L723.00,314.08 L723.09,314.89 L723.18,315.70 L723.27,316.47 L723.36,317.18 L723.44,317.79 L723.53,318.28 L723.62,318.62 L723.71,318.81 L723.80,318.83 L723.89,318.71 L723.98,318.45 L724.07,318.09 L724.15,317.67 L724.24,317.25 L724.33,316.88 L724.42,316.61 L724.51,316.47 L724.60,316.51 L724.69,316.66 L724.78,316.88 L724.86,317.17 L724.95,317.52 L725.04,317.92 L725.13,318.37 L725.22,318.85 L725.31,319.36 L725.40,319.87 L725.49,320.38 L725.57,320.87 L725.66,321.33 L725.75,321.75 L725.84,322.11 L725.93,322.41 L726.02,322.63 L726.11,322.79 L726.20,322.87 L726.28,322.89 L726.37,322.85 L726.46,322.76 L726.55,322.65 L726.64,322.53 L726.73,322.42 L726.82,322.33 L726.91,322.29 L726.99,322.31 L727.08,322.36 L727.17,322.43 L727.26,322.53 L727.35,322.65 L727.44,322.78 L727.53,322.93 L727.62,323.09 L727.70,323.26 L727.79,323.44 L727.88,323.62 L727.97,323.79 L728.06,323.96 L728.15,324.12 L728.24,324.27 L728.33,324.41 L728.41,324.53 L728.50,324.65 L728.59,324.74 L728.68,324.83 L728.77,324.90 L728.86,324.96 L728.95,325.01 L729.04,325.05 L729.12,325.09 L729.21,325.11 L729.30,325.14 L729.39,325.15 L729.48,325.16 L729.57,325.17 L729.66,325.18 L729.74,325.19 L729.83,325.19 L729.92,325.19 L730.01,325.20 L730.10,325.20 L730.19,325.20 L730.28,325.20 L730.37,325.20 L730.45,325.20 L730.54,325.20 L730.63,325.20 L730.72,325.20 L730.81,325.20 L730.90,325.20 L730.99,325.20 L731.08,325.20 L731.16,325.20 L731.25,325.20 L731.34,325.20 L731.43,325.20 L731.52,325.20 L731.61,325.20 L731.70,325.20 L731.79,325.20 L731.87,325.20 L731.96,325.20 L732.05,325.20 L732.14,325.20 L732.23,325.20 L732.32,325.20 L732.41,325.20 L732.50,325.20 L732.58,325.20 L732.67,325.20 L732.76,325.20 L732.85,325.20 L732.94,325.20 L733.03,325.19 L733.12,325.19 L733.21,325.18 L733.29,325.16 L733.38,325.12 L733.47,325.07 L733.56,324.99 L733.65,324.86 L733.74,324.67 L733.83,324.37 L733.92,323.94 L734.00,323.32 L734.09,322.45 L734.18,321.26 L734.27,319.68 L734.36,317.60 L734.45,314.95 L734.54,311.63 L734.63,307.60 L734.71,302.80 L734.80,297.23 L734.89,290.91 L734.98,283.94 L735.07,276.44 L735.16,268.57 L735.25,260.54 L735.34,252.57 L735.42,244.88 L735.51,237.69 L735.60,231.19 L735.69,225.55 L735.78,220.47 L735.87,215.65 L735.96,211.23 L736.05,207.42 L736.13,204.40 L736.22,202.39 L736.31,201.59 L736.40,202.15 L736.49,204.17 L736.58,207.71 L736.67,212.32 L736.76,217.52 L736.84,223.21 L736.93,229.30 L737.02,235.68 L737.11,242.24 L737.20,248.89 L737.29,255.54 L737.38,262.08 L737.47,268.44 L737.55,274.55 L737.64,280.35 L737.73,285.80 L737.82,290.86 L737.91,295.51 L738.00,299.73 L738.09,303.53 L738.18,306.91 L738.26,309.89 L738.35,312.49 L738.44,314.74 L738.53,316.66 L738.62,318.29 L738.71,319.65 L738.80,320.78 L738.88,321.72 L738.97,322.47 L739.06,323.09 L739.15,323.57 L739.24,323.96 L739.33,324.26 L739.42,324.50 L739.51,324.68 L739.59,324.82 L739.68,324.92 L739.77,325.00 L739.86,325.06 L739.95,325.10 L740.04,325.13 L740.13,325.15 L740.22,325.17 L740.30,325.18 L740.39,325.18 L740.48,325.19 L740.57,325.19 L740.66,325.19 L740.75,325.19 L740.84,325.19 L740.93,325.19 L741.01,325.18 L741.10,325.17 L741.19,325.16 L741.28,325.14 L741.37,325.10 L741.46,325.05 L741.55,324.99 L741.64,324.89 L741.72,324.78 L741.81,324.63 L741.90,324.45 L741.99,324.24 L742.08,324.00 L742.17,323.75 L742.26,323.48 L742.35,323.21 L742.43,322.97 L742.52,322.75 L742.61,322.59 L742.70,322.48 L742.79,322.44 L742.88,322.45 L742.97,322.48 L743.06,322.54 L743.14,322.61 L743.23,322.70 L743.32,322.79 L743.41,322.88 L743.50,322.96 L743.59,323.02 L743.68,323.06 L743.77,323.08 L743.85,323.07 L743.94,323.03 L744.03,322.98 L744.12,322.92 L744.21,322.86 L744.30,322.81 L744.39,322.79 L744.48,322.79 L744.56,322.84 L744.65,322.91 L744.74,323.00 L744.83,323.09 L744.92,323.20 L745.01,323.32 L745.10,323.45 L745.19,323.58 L745.27,323.72 L745.36,323.86 L745.45,324.00 L745.54,324.13 L745.63,324.26 L745.72,324.39 L745.81,324.50 L745.90,324.60 L745.98,324.70 L746.07,324.78 L746.16,324.86 L746.25,324.92 L746.34,324.97 L746.43,325.02 L746.52,325.06 L746.61,325.09 L746.69,325.12 L746.78,325.14 L746.87,325.15 L746.96,325.16 L747.05,325.17 L747.14,325.18 L747.23,325.19 L747.31,325.19 L747.40,325.19 L747.49,325.20 L747.58,325.20 L747.67,325.20 L747.76,325.20 L747.85,325.20 L747.94,325.20 L748.02,325.20 L748.11,325.20 L748.20,325.20 L748.29,325.20 L748.38,325.20 L748.47,325.20 L748.56,325.20 L748.65,325.20 L748.73,325.20 L748.82,325.20 L748.91,325.20 L749.00,325.20 L749.09,325.20 L749.18,325.20 L749.27,325.20 L749.36,325.20 L749.44,325.20 L749.53,325.20 L749.62,325.20 L749.71,325.20 L749.80,325.20 L749.89,325.20 L749.98,325.20 L750.07,325.20 L750.15,325.20 L750.24,325.20 L750.33,325.20 L750.42,325.20 L750.51,325.20 L750.60,325.20 L750.69,325.20 L750.78,325.20 L750.86,325.20 L750.95,325.20 L751.04,325.20 L751.13,325.20 L751.22,325.20 L751.31,325.20 L751.40,325.20 L751.49,325.20 L751.57,325.20 L751.66,325.20 L751.75,325.20 L751.84,325.20 L751.93,325.20 L752.02,325.20 L752.11,325.20 L752.20,325.20 L752.28,325.20 L752.37,325.20 L752.46,325.20 L752.55,325.19 L752.64,325.19 L752.73,325.18 L752.82,325.17 L752.91,325.15 L752.99,325.13 L753.08,325.09 L753.17,325.05 L753.26,324.99 L753.35,324.92 L753.44,324.83 L753.53,324.72 L753.62,324.60 L753.70,324.47 L753.79,324.34 L753.88,324.21 L753.97,324.08 L754.06,323.98 L754.15,323.90 L754.24,323.84 L754.33,323.83 L754.41,323.83 L754.50,323.86 L754.59,323.89 L754.68,323.94 L754.77,324.00 L754.86,324.07 L754.95,324.15 L755.04,324.24 L755.12,324.32 L755.21,324.41 L755.30,324.50 L755.39,324.58 L755.48,324.66 L755.57,324.74 L755.66,324.81 L755.75,324.87 L755.83,324.92 L755.92,324.97 L756.01,325.01 L756.10,325.05 L756.19,325.08 L756.28,325.11 L756.37,325.13 L756.45,325.14 L756.54,325.16 L756.63,325.17 L756.72,325.17 L756.81,325.18 L756.90,325.18 L756.99,325.18 L757.08,325.17 L757.16,325.15 L757.25,325.13 L757.34,325.10 L757.43,325.05 L757.52,324.98 L757.61,324.89 L757.70,324.78 L757.79,324.63 L757.87,324.45 L757.96,324.24 L758.05,324.00 L758.14,323.75 L758.23,323.48 L758.32,323.22 L758.41,322.97 L758.50,322.76 L758.58,322.59 L758.67,322.49 L758.76,322.45 L758.85,322.47 L758.94,322.51 L759.03,322.59 L759.12,322.69 L759.21,322.81 L759.29,322.95 L759.38,323.11 L759.47,323.27 L759.56,323.45 L759.65,323.62 L759.74,323.79 L759.83,323.96 L759.92,324.12 L760.00,324.27 L760.09,324.41 L760.18,324.53 L760.27,324.65 L760.36,324.74 L760.45,324.83 L760.54,324.90 L760.63,324.96 L760.71,325.01 L760.80,325.05 L760.89,325.09 L760.98,325.11 L761.07,325.14 L761.16,325.15 L761.25,325.16 L761.34,325.17 L761.42,325.18 L761.51,325.19 L761.60,325.19 L761.69,325.19 L761.78,325.20 L761.87,325.20 L761.96,325.20 L762.05,325.20 L762.13,325.20 L762.22,325.20 L762.31,325.20 L762.40,325.20 L762.49,325.20 L762.58,325.20 L762.67,325.20 L762.76,325.20 L762.84,325.20 L762.93,325.20 L763.02,325.20 L763.11,325.20 L763.20,325.20 L763.29,325.20 L763.38,325.20 L763.47,325.20 L763.55,325.20 L763.64,325.20 L763.73,325.20 L763.82,325.20 L763.91,325.20 L764.00,325.20 L764.09,325.20 L764.18,325.20 L764.26,325.20 L764.35,325.20 L764.44,325.20 L764.53,325.20 L764.62,325.20 L764.71,325.20 L764.80,325.20 L764.88,325.20 L764.97,325.20 L765.06,325.20 L765.15,325.20 L765.24,325.20 L765.33,325.20 L765.42,325.20 L765.51,325.20 L765.59,325.20 L765.68,325.19 L765.77,325.18 L765.86,325.17 L765.95,325.15 L766.04,325.11 L766.13,325.05 L766.22,324.96 L766.30,324.82 L766.39,324.61 L766.48,324.32 L766.57,323.91 L766.66,323.37 L766.75,322.67 L766.84,321.78 L766.93,320.71 L767.01,319.45 L767.10,318.03 L767.19,316.48 L767.28,314.88 L767.37,313.29 L767.46,311.81 L767.55,310.54 L767.64,309.55 L767.72,308.93 L767.81,308.71 L767.90,308.81 L767.99,309.08 L768.08,309.52 L768.17,310.11 L768.26,310.85 L768.35,311.70 L768.43,312.63 L768.52,313.64 L768.61,314.68 L768.70,315.73 L768.79,316.77 L768.88,317.78 L768.97,318.74 L769.06,319.63 L769.14,320.46 L769.23,321.21 L769.32,321.88 L769.41,322.46 L769.50,322.97 L769.59,323.40 L769.68,323.77 L769.77,324.07 L769.85,324.32 L769.94,324.52 L770.03,324.68 L770.12,324.81 L770.21,324.91 L770.30,324.99 L770.39,325.04 L770.48,325.09 L770.56,325.12 L770.65,325.14 L770.74,325.16 L770.83,325.17 L770.92,325.18 L771.01,325.19 L771.10,325.19 L771.19,325.19 L771.27,325.20 L771.36,325.20 L771.45,325.20 L771.54,325.20 L771.63,325.20 L771.72,325.20 L771.81,325.20 L771.90,325.20 L771.98,325.20 L772.07,325.20 L772.16,325.20 L772.25,325.20 L772.34,325.20 L772.43,325.20 L772.52,325.20 L772.61,325.20 L772.69,325.20 L772.78,325.20 L772.87,325.20 L772.96,325.20 L773.05,325.20 L773.14,325.20 L773.23,325.20 L773.32,325.20 L773.40,325.20 L773.49,325.20 L773.58,325.20 L773.67,325.20 L773.76,325.19 L773.85,325.19 L773.94,325.18 L774.02,325.16 L774.11,325.12 L774.20,325.07 L774.29,324.98 L774.38,324.84 L774.47,324.64 L774.56,324.34 L774.65,323.91 L774.73,323.32 L774.82,322.53 L774.91,321.51 L775.00,320.22 L775.09,318.65 L775.18,316.82 L775.27,314.74 L775.36,312.49 L775.44,310.15 L775.53,307.83 L775.62,305.68 L775.71,303.82 L775.80,302.38 L775.89,301.47 L775.98,301.16 L776.07,301.29 L776.15,301.69 L776.24,302.33 L776.33,303.20 L776.42,304.27 L776.51,305.51 L776.60,306.87 L776.69,308.34 L776.78,309.85 L776.86,311.39 L776.95,312.90 L777.04,314.37 L777.13,315.77 L777.22,317.08 L777.31,318.29 L777.40,319.38 L777.49,320.35 L777.57,321.21 L777.66,321.95 L777.75,322.58 L777.84,323.11 L777.93,323.55 L778.02,323.92 L778.11,324.21 L778.20,324.45 L778.28,324.63 L778.37,324.78 L778.46,324.89 L778.55,324.97 L778.64,325.04 L778.73,325.08 L778.82,325.12 L778.91,325.14 L778.99,325.16 L779.08,325.17 L779.17,325.18 L779.26,325.19 L779.35,325.19 L779.44,325.19 L779.53,325.20 L779.62,325.20 L779.70,325.20 L779.79,325.20 L779.88,325.20 L779.97,325.20 L780.06,325.20 L780.15,325.20 L780.24,325.19 L780.33,325.19 L780.41,325.18 L780.50,325.17 L780.59,325.15 L780.68,325.12 L780.77,325.08 L780.86,325.02 L780.95,324.93 L781.04,324.82 L781.12,324.67 L781.21,324.49 L781.30,324.26 L781.39,324.00 L781.48,323.71 L781.57,323.38 L781.66,323.05 L781.75,322.72 L781.83,322.41 L781.92,322.15 L782.01,321.94 L782.10,321.81 L782.19,321.77 L782.28,321.78 L782.37,321.84 L782.45,321.93 L782.54,322.06 L782.63,322.21 L782.72,322.39 L782.81,322.58 L782.90,322.79 L782.99,323.01 L783.08,323.23 L783.16,323.44 L783.25,323.65 L783.34,323.85 L783.43,324.04 L783.52,324.21 L783.61,324.37 L783.70,324.51 L783.79,324.63 L783.87,324.74 L783.96,324.83 L784.05,324.90 L784.14,324.96 L784.23,325.02 L784.32,325.06 L784.41,325.09 L784.50,325.12 L784.58,325.14 L784.67,325.16 L784.76,325.17 L784.85,325.18 L784.94,325.18 L785.03,325.19 L785.12,325.19 L785.21,325.19 L785.29,325.20 L785.38,325.20 L785.47,325.20 L785.56,325.20 L785.65,325.20 L785.74,325.20 L785.83,325.20 L785.92,325.20 L786.00,325.20 L786.09,325.20 L786.18,325.20 L786.27,325.20 L786.36,325.20 L786.45,325.20 L786.54,325.20 L786.63,325.20 L786.71,325.20 L786.80,325.20 L786.89,325.20 L786.98,325.20 L787.07,325.20 L787.16,325.20 L787.25,325.20 L787.34,325.20 L787.42,325.20 L787.51,325.20 L787.60,325.20 L787.69,325.20 L787.78,325.20 L787.87,325.20 L787.96,325.20 L788.05,325.20 L788.13,325.20 L788.22,325.20 L788.31,325.20 L788.40,325.20 L788.49,325.20 L788.58,325.20 L788.67,325.20 L788.76,325.20 L788.84,325.20 L788.93,325.20 L789.02,325.20 L789.11,325.20 L789.20,325.20 L789.29,325.20 L789.38,325.20 L789.47,325.20 L789.55,325.20 L789.64,325.20 L789.73,325.20 L789.82,325.20 L789.91,325.20 L790.00,325.20 L790.09,325.20 L790.18,325.20 L790.26,325.20 L790.35,325.20 L790.44,325.20 L790.53,325.20 L790.62,325.20 L790.71,325.20 L790.80,325.20 L790.89,325.20 L790.97,325.20 L791.06,325.20 L791.15,325.20 L791.24,325.20 L791.33,325.20 L791.42,325.20 L791.51,325.20 L791.59,325.20 L791.68,325.20 L791.77,325.20 L791.86,325.20 L791.95,325.20 L792.04,325.20 L792.13,325.20 L792.22,325.20 L792.30,325.20 L792.39,325.20 L792.48,325.20 L792.57,325.20 L792.66,325.20 L792.75,325.20 L792.84,325.20 L792.93,325.20 L793.01,325.20 L793.10,325.20 L793.19,325.20 L793.28,325.19 L793.37,325.18 L793.46,325.17 L793.55,325.15 L793.64,325.11 L793.72,325.05 L793.81,324.96 L793.90,324.82 L793.99,324.61 L794.08,324.32 L794.17,323.91 L794.26,323.37 L794.35,322.67 L794.43,321.78 L794.52,320.71 L794.61,319.45 L794.70,318.03 L794.79,316.48 L794.88,314.88 L794.97,313.29 L795.06,311.81 L795.14,310.54 L795.23,309.55 L795.32,308.93 L795.41,308.71 L795.50,308.81 L795.59,309.08 L795.68,309.52 L795.77,310.11 L795.85,310.85 L795.94,311.70 L796.03,312.63 L796.12,313.64 L796.21,314.68 L796.30,315.73 L796.39,316.77 L796.48,317.78 L796.56,318.74 L796.65,319.63 L796.74,320.46 L796.83,321.21 L796.92,321.88 L797.01,322.46 L797.10,322.97 L797.19,323.40 L797.27,323.77 L797.36,324.07 L797.45,324.32 L797.54,324.52 L797.63,324.68 L797.72,324.81 L797.81,324.91 L797.90,324.99 L797.98,325.04 L798.07,325.09 L798.16,325.12 L798.25,325.14 L798.34,325.16 L798.43,325.17 L798.52,325.18 L798.61,325.19 L798.69,325.19 L798.78,325.19 L798.87,325.20 L798.96,325.20 L799.05,325.20 L799.14,325.20 L799.23,325.20 L799.32,325.20 L799.40,325.20 L799.49,325.20 L799.58,325.20 L799.67,325.20 L799.76,325.20 L799.85,325.20 L799.94,325.20 L800.02,325.20 L800.11,325.20 L800.20,325.20 L800.29,325.20 L800.38,325.20 L800.47,325.20 L800.56,325.20 L800.65,325.20 L800.73,325.20 L800.82,325.20 L800.91,325.20 L801.00,325.20 L801.09,325.20 L801.18,325.20 L801.27,325.20 L801.36,325.20 L801.44,325.20 L801.53,325.20 L801.62,325.20 L801.71,325.20 L801.80,325.20 L801.89,325.20 L801.98,325.20 L802.07,325.19 L802.15,325.19 L802.24,325.18 L802.33,325.17 L802.42,325.15 L802.51,325.12 L802.60,325.08 L802.69,325.02 L802.78,324.93 L802.86,324.82 L802.95,324.67 L803.04,324.49 L803.13,324.26 L803.22,324.00 L803.31,323.71 L803.40,323.38 L803.49,323.05 L803.57,322.72 L803.66,322.41 L803.75,322.15 L803.84,321.94 L803.93,321.81 L804.02,321.77 L804.11,321.78 L804.20,321.84 L804.28,321.93 L804.37,322.06 L804.46,322.21 L804.55,322.39 L804.64,322.58 L804.73,322.79 L804.82,323.01 L804.91,323.23 L804.99,323.44 L805.08,323.65 L805.17,323.85 L805.26,324.04 L805.35,324.21 L805.44,324.37 L805.53,324.51 L805.62,324.63 L805.70,324.74 L805.79,324.83 L805.88,324.90 L805.97,324.96 L806.06,325.02 L806.15,325.06 L806.24,325.09 L806.33,325.12 L806.41,325.14 L806.50,325.16 L806.59,325.17 L806.68,325.18 L806.77,325.18 L806.86,325.19 L806.95,325.19 L807.04,325.19 L807.12,325.20 L807.21,325.20 L807.30,325.20 L807.39,325.20 L807.48,325.20 L807.57,325.20 L807.66,325.20 L807.75,325.19 L807.83,325.19 L807.92,325.18 L808.01,325.16 L808.10,325.14 L808.19,325.10 L808.28,325.05 L808.37,324.98 L808.46,324.88 L808.54,324.74 L808.63,324.57 L808.72,324.35 L808.81,324.08 L808.90,323.76 L808.99,323.41 L809.08,323.02 L809.16,322.62 L809.25,322.22 L809.34,321.85 L809.43,321.53 L809.52,321.29 L809.61,321.13 L809.70,321.08 L809.79,321.10 L809.87,321.17 L809.96,321.28 L810.05,321.43 L810.14,321.61 L810.23,321.82 L810.32,322.06 L810.41,322.31 L810.50,322.57 L810.58,322.83 L810.67,323.09 L810.76,323.34 L810.85,323.58 L810.94,323.81 L811.03,324.02 L811.12,324.20 L811.21,324.37 L811.29,324.52 L811.38,324.64 L811.47,324.75 L811.56,324.84 L811.65,324.92 L811.74,324.98 L811.83,325.03 L811.92,325.07 L812.00,325.10 L812.09,325.13 L812.18,325.15 L812.27,325.16 L812.36,325.17 L812.45,325.18 L812.54,325.18 L812.63,325.18 L812.71,325.18 L812.80,325.17 L812.89,325.14 L812.98,325.10 L813.07,325.04 L813.16,324.94 L813.25,324.77 L813.34,324.53 L813.42,324.17 L813.51,323.65 L813.60,322.95 L813.69,322.00 L813.78,320.77 L813.87,319.22 L813.96,317.34 L814.05,315.14 L814.13,312.65 L814.22,309.95 L814.31,307.14 L814.40,304.36 L814.49,301.77 L814.58,299.54 L814.67,297.81 L814.76,296.72 L814.84,296.35 L814.93,296.51 L815.02,296.98 L815.11,297.75 L815.20,298.80 L815.29,300.08 L815.38,301.57 L815.47,303.21 L815.55,304.96 L815.64,306.78 L815.73,308.62 L815.82,310.44 L815.91,312.21 L816.00,313.89 L816.09,315.46 L816.18,316.90 L816.26,318.21 L816.35,319.38 L816.44,320.40 L816.53,321.28 L816.62,322.03 L816.71,322.65 L816.80,323.16 L816.89,323.55 L816.97,323.84 L817.06,324.03 L817.15,324.11 L817.24,324.10 L817.33,323.99 L817.42,323.77 L817.51,323.44 L817.59,323.00 L817.68,322.47 L817.77,321.84 L817.86,321.16 L817.95,320.44 L818.04,319.72 L818.13,319.05 L818.22,318.47 L818.30,318.02 L818.39,317.74 L818.48,317.64 L818.57,317.68 L818.66,317.81 L818.75,318.01 L818.84,318.28 L818.93,318.62 L819.01,319.01 L819.10,319.44 L819.19,319.90 L819.28,320.38 L819.37,320.86 L819.46,321.34 L819.55,321.80 L819.64,322.24 L819.72,322.65 L819.81,323.03 L819.90,323.37 L819.99,323.68 L820.08,323.94 L820.17,324.18 L820.26,324.38 L820.35,324.54 L820.43,324.68 L820.52,324.80 L820.61,324.89 L820.70,324.96 L820.79,325.02 L820.88,325.07 L820.97,325.10 L821.06,325.13 L821.14,325.15 L821.23,325.16 L821.32,325.17 L821.41,325.18 L821.50,325.19 L821.59,325.19 L821.68,325.19 L821.77,325.20 L821.85,325.20 L821.94,325.20 L822.03,325.20 L822.12,325.20 L822.21,325.20 L822.30,325.20 L822.39,325.20 L822.48,325.20 L822.56,325.20 L822.65,325.20 L822.74,325.20 L822.83,325.20 L822.92,325.20 L823.01,325.20 L823.10,325.20 L823.19,325.20 L823.27,325.20 L823.36,325.19 L823.45,325.19 L823.54,325.18 L823.63,325.16 L823.72,325.13 L823.81,325.08 L823.90,325.01 L823.98,324.90 L824.07,324.75 L824.16,324.52 L824.25,324.21 L824.34,323.79 L824.43,323.25 L824.52,322.57 L824.61,321.74 L824.69,320.77 L824.78,319.67 L824.87,318.48 L824.96,317.24 L825.05,316.02 L825.14,314.88 L825.23,313.90 L825.32,313.14 L825.40,312.66 L825.49,312.49 L825.58,312.56 L825.67,312.77 L825.76,313.11 L825.85,313.57 L825.94,314.14 L826.03,314.79 L826.11,315.51 L826.20,316.29 L826.29,317.09 L826.38,317.90 L826.47,318.70 L826.56,319.48 L826.65,320.22 L826.73,320.91 L826.82,321.55 L826.91,322.12 L827.00,322.64 L827.09,323.09 L827.18,323.48 L827.27,323.81 L827.36,324.10 L827.44,324.33 L827.53,324.52 L827.62,324.67 L827.71,324.79 L827.80,324.88 L827.89,324.95 L827.98,324.99 L828.07,325.00 L828.15,324.99 L828.24,324.95 L828.33,324.86 L828.42,324.73 L828.51,324.54 L828.60,324.27 L828.69,323.92 L828.78,323.49 L828.86,322.95 L828.95,322.32 L829.04,321.61 L829.13,320.84 L829.22,320.04 L829.31,319.25 L829.40,318.51 L829.49,317.87 L829.57,317.38 L829.66,317.06 L829.75,316.96 L829.84,317.00 L829.93,317.14 L830.02,317.36 L830.11,317.66 L830.20,318.02 L830.28,318.45 L830.37,318.92 L830.46,319.42 L830.55,319.94 L830.64,320.46 L830.73,320.98 L830.82,321.48 L830.91,321.95 L830.99,322.38 L831.08,322.76 L831.17,323.09 L831.26,323.35 L831.35,323.54 L831.44,323.64 L831.53,323.64 L831.62,323.52 L831.70,323.26 L831.79,322.86 L831.88,322.30 L831.97,321.57 L832.06,320.69 L832.15,319.68 L832.24,318.56 L832.33,317.38 L832.41,316.21 L832.50,315.12 L832.59,314.17 L832.68,313.44 L832.77,312.98 L832.86,312.83 L832.95,312.90 L833.04,313.10 L833.12,313.43 L833.21,313.88 L833.30,314.43 L833.39,315.07 L833.48,315.78 L833.57,316.53 L833.66,317.31 L833.75,318.10 L833.83,318.88 L833.92,319.63 L834.01,320.35 L834.10,321.02 L834.19,321.64 L834.28,322.20 L834.37,322.70 L834.46,323.13 L834.54,323.50 L834.63,323.81 L834.72,324.05 L834.81,324.22 L834.90,324.31 L834.99,324.31 L835.08,324.20 L835.16,323.93 L835.25,323.47 L835.34,322.74 L835.43,321.67 L835.52,320.13 L835.61,318.01 L835.70,315.18 L835.79,311.48 L835.87,306.77 L835.96,300.94 L836.05,293.90 L836.14,285.63 L836.23,276.17 L836.32,265.69 L836.41,254.42 L836.50,242.71 L836.58,231.01 L836.67,219.82 L836.76,209.68 L836.85,201.13 L836.94,194.64 L837.03,190.58 L837.12,189.20 L837.21,189.50 L837.29,190.40 L837.38,191.89 L837.47,193.95 L837.56,196.55 L837.65,199.66 L837.74,203.23 L837.83,207.23 L837.92,211.60 L838.00,216.30 L838.09,221.26 L838.18,226.44 L838.27,231.78 L838.36,237.22 L838.45,242.71 L838.54,248.20 L838.63,253.65 L838.71,259.00 L838.80,264.23 L838.89,269.29 L838.98,274.16 L839.07,278.81 L839.16,283.22 L839.25,287.39 L839.34,291.29 L839.42,294.92 L839.51,298.29 L839.60,301.38 L839.69,304.22 L839.78,306.79 L839.87,309.13 L839.96,311.23 L840.05,313.11 L840.13,314.78 L840.22,316.26 L840.31,317.56 L840.40,318.69 L840.49,319.68 L840.58,320.52 L840.67,321.23 L840.76,321.81 L840.84,322.27 L840.93,322.58 L841.02,322.74 L841.11,322.72 L841.20,322.47 L841.29,321.92 L841.38,321.00 L841.47,319.58 L841.55,317.52 L841.64,314.66 L841.73,310.81 L841.82,305.75 L841.91,299.27 L842.00,291.15 L842.09,281.23 L842.18,269.36 L842.26,255.51 L842.35,239.74 L842.44,222.23 L842.53,203.30 L842.62,183.43 L842.71,163.22 L842.80,143.38 L842.89,124.71 L842.97,108.02 L843.06,94.08 L843.15,83.57 L843.24,77.05 L843.33,74.83 L843.42,75.52 L843.51,77.57 L843.60,80.94 L843.68,85.59 L843.77,91.43 L843.86,98.38 L843.95,106.33 L844.04,115.15 L844.13,124.72 L844.22,134.90 L844.30,145.56 L844.39,156.54 L844.48,167.72 L844.57,178.97 L844.66,190.15 L844.75,201.16 L844.84,211.90 L844.93,222.27 L845.01,232.21 L845.10,241.64 L845.19,250.53 L845.28,258.84 L845.37,266.55 L845.46,273.64 L845.55,280.13 L845.64,286.01 L845.72,291.32 L845.81,296.06 L845.90,300.28 L845.99,304.00 L846.08,307.27 L846.17,310.12 L846.26,312.58 L846.35,314.70 L846.43,316.51 L846.52,318.05 L846.61,319.35 L846.70,320.43 L846.79,321.34 L846.88,322.09 L846.97,322.71 L847.06,323.22 L847.14,323.63 L847.23,323.96 L847.32,324.23 L847.41,324.45 L847.50,324.62 L847.59,324.75 L847.68,324.85 L847.77,324.94 L847.85,325.00 L847.94,325.05 L848.03,325.09 L848.12,325.12 L848.21,325.14 L848.30,325.15 L848.39,325.17 L848.48,325.18 L848.56,325.18 L848.65,325.19 L848.74,325.19 L848.83,325.19 L848.92,325.20 L849.01,325.20 L849.10,325.20 L849.19,325.20 L849.27,325.20 L849.36,325.20 L849.45,325.20 L849.54,325.20 L849.63,325.20 L849.72,325.20 L849.81,325.20 L849.90,325.20 L849.98,325.20 L850.07,325.20 L850.16,325.20 L850.25,325.20 L850.34,325.20 L850.43,325.20 L850.52,325.20 L850.61,325.20 L850.69,325.20 L850.78,325.20 L850.87,325.20 L850.96,325.20 L851.05,325.20 L851.14,325.20 L851.23,325.20 L851.32,325.20 L851.40,325.20 L851.49,325.20 L851.58,325.20 L851.67,325.20 L851.76,325.20 L851.85,325.20 L851.94,325.20 L852.03,325.20 L852.11,325.20 L852.20,325.20 L852.29,325.20 L852.38,325.20 L852.47,325.20 L852.56,325.20 L852.65,325.20 L852.73,325.20 L852.82,325.20 L852.91,325.20 L853.00,325.20 L853.09,325.20 L853.18,325.20 L853.27,325.20 L853.36,325.20 L853.44,325.20 L853.53,325.20 L853.62,325.20 L853.71,325.20 L853.80,325.20 L853.89,325.20 L853.98,325.20 L854.07,325.20 L854.15,325.20 L854.24,325.20 L854.33,325.20 L854.42,325.20 L854.51,325.20 L854.60,325.20 L854.69,325.20 L854.78,325.20 L854.86,325.20 L854.95,325.19 L855.04,325.19 L855.13,325.18 L855.22,325.16 L855.31,325.12 L855.40,325.05 L855.49,324.94 L855.57,324.75 L855.66,324.45 L855.75,323.99 L855.84,323.28 L855.93,322.25 L856.02,320.79 L856.11,318.78 L856.20,316.12 L856.28,312.70 L856.37,308.47 L856.46,303.41 L856.55,297.61 L856.64,291.22 L856.73,284.50 L856.82,277.78 L856.91,271.46 L856.99,265.98 L857.08,261.72 L857.17,259.02 L857.26,258.09 L857.35,258.61 L857.44,260.15 L857.53,262.64 L857.62,265.97 L857.70,269.98 L857.79,274.52 L857.88,279.39 L857.97,284.42 L858.06,289.43 L858.15,294.27 L858.24,298.79 L858.33,302.88 L858.41,306.45 L858.50,309.43 L858.59,311.76 L858.68,313.40 L858.77,314.29 L858.86,314.42 L858.95,313.73 L859.04,312.21 L859.12,309.82 L859.21,306.58 L859.30,302.50 L859.39,297.64 L859.48,292.10 L859.57,286.03 L859.66,279.62 L859.75,273.09 L859.83,266.70 L859.92,260.71 L860.01,255.36 L860.10,250.85 L860.19,247.33 L860.28,244.89 L860.37,243.09 L860.46,241.50 L860.54,240.09 L860.63,238.88 L860.72,237.91 L860.81,237.25 L860.90,237.02 L860.99,237.35 L861.08,238.39 L861.17,240.25 L861.25,243.02 L861.34,246.75 L861.43,251.00 L861.52,255.30 L861.61,259.59 L861.70,263.84 L861.79,268.00 L861.87,272.04 L861.96,275.94 L862.05,279.69 L862.14,283.26 L862.23,286.66 L862.32,289.88 L862.41,292.92 L862.50,295.78 L862.58,298.47 L862.67,300.99 L862.76,303.34 L862.85,305.53 L862.94,307.57 L863.03,309.45 L863.12,311.19 L863.21,312.79 L863.29,314.25 L863.38,315.58 L863.47,316.79 L863.56,317.88 L863.65,318.86 L863.74,319.73 L863.83,320.51 L863.92,321.20 L864.00,321.80 L864.09,322.33 L864.18,322.79 L864.27,323.18 L864.36,323.52 L864.45,323.81 L864.54,324.06 L864.63,324.27 L864.71,324.44 L864.80,324.58 L864.89,324.70 L864.98,324.80 L865.07,324.88 L865.16,324.94 L865.25,324.99 L865.34,325.03 L865.42,325.05 L865.51,325.06 L865.60,325.05 L865.69,325.03 L865.78,325.00 L865.87,324.94 L865.96,324.86 L866.05,324.76 L866.13,324.63 L866.22,324.47 L866.31,324.30 L866.40,324.11 L866.49,323.91 L866.58,323.71 L866.67,323.52 L866.76,323.37 L866.84,323.24 L866.93,323.17 L867.02,323.14 L867.11,323.15 L867.20,323.18 L867.29,323.24 L867.38,323.31 L867.47,323.40 L867.55,323.51 L867.64,323.63 L867.73,323.75 L867.82,323.87 L867.91,324.00 L868.00,324.11 L868.09,324.22 L868.18,324.31 L868.26,324.38 L868.35,324.42 L868.44,324.43 L868.53,324.40 L868.62,324.33 L868.71,324.21 L868.80,324.04 L868.89,323.82 L868.97,323.57 L869.06,323.27 L869.15,322.97 L869.24,322.65 L869.33,322.36 L869.42,322.11 L869.51,321.91 L869.60,321.79 L869.68,321.75 L869.77,321.77 L869.86,321.83 L869.95,321.93 L870.04,322.05 L870.13,322.21 L870.22,322.39 L870.30,322.58 L870.39,322.79 L870.48,323.01 L870.57,323.23 L870.66,323.44 L870.75,323.65 L870.84,323.85 L870.93,324.04 L871.01,324.21 L871.10,324.37 L871.19,324.51 L871.28,324.63 L871.37,324.74 L871.46,324.83 L871.55,324.90 L871.64,324.96 L871.72,325.02 L871.81,325.06 L871.90,325.09 L871.99,325.12 L872.08,325.14 L872.17,325.16 L872.26,325.17 L872.35,325.18 L872.43,325.18 L872.52,325.19 L872.61,325.19 L872.70,325.19 L872.79,325.20 L872.88,325.20 L872.97,325.20 L873.06,325.20 L873.14,325.20 L873.23,325.20 L873.32,325.20 L873.41,325.20 L873.50,325.20 L873.59,325.20 L873.68,325.20 L873.77,325.20 L873.85,325.20 L873.94,325.20 L874.03,325.20 L874.12,325.20 L874.21,325.20 L874.30,325.20 L874.39,325.20 L874.48,325.20 L874.56,325.20 L874.65,325.20 L874.74,325.19 L874.83,325.19 L874.92,325.18 L875.01,325.17 L875.10,325.14 L875.19,325.11 L875.27,325.06 L875.36,324.98 L875.45,324.87 L875.54,324.72 L875.63,324.51 L875.72,324.25 L875.81,323.92 L875.90,323.52 L875.98,323.04 L876.07,322.51 L876.16,321.93 L876.25,321.33 L876.34,320.73 L876.43,320.18 L876.52,319.70 L876.61,319.33 L876.69,319.10 L876.78,319.02 L876.87,319.05 L876.96,319.15 L877.05,319.32 L877.14,319.54 L877.23,319.82 L877.32,320.14 L877.40,320.49 L877.49,320.86 L877.58,321.25 L877.67,321.65 L877.76,322.04 L877.85,322.42 L877.94,322.78 L878.03,323.11 L878.11,323.42 L878.20,323.70 L878.29,323.95 L878.38,324.17 L878.47,324.36 L878.56,324.53 L878.65,324.66 L878.74,324.78 L878.82,324.87 L878.91,324.95 L879.00,325.01 L879.09,325.05 L879.18,325.09 L879.27,325.12 L879.36,325.14 L879.44,325.16 L879.53,325.17 L879.62,325.18 L879.71,325.19 L879.80,325.19 L879.89,325.19 L879.98,325.20 L880.07,325.20 L880.15,325.20 L880.24,325.20 L880.33,325.20 L880.42,325.20 L880.51,325.20 L880.60,325.20 L880.69,325.20 L880.78,325.20 L880.86,325.20 L880.95,325.20 L881.04,325.20 L881.13,325.20 L881.22,325.20 L881.31,325.20 L881.40,325.20 L881.49,325.20 L881.57,325.20 L881.66,325.19 L881.75,325.19 L881.84,325.18 L881.93,325.16 L882.02,325.13 L882.11,325.08 L882.20,325.00 L882.28,324.86 L882.37,324.65 L882.46,324.34 L882.55,323.87 L882.64,323.21 L882.73,322.30 L882.82,321.08 L882.91,319.50 L882.99,317.51 L883.08,315.10 L883.17,312.27 L883.26,309.07 L883.35,305.59 L883.44,301.98 L883.53,298.41 L883.62,295.08 L883.70,292.21 L883.79,289.99 L883.88,288.59 L883.97,288.11 L884.06,288.31 L884.15,288.92 L884.24,289.91 L884.33,291.26 L884.41,292.91 L884.50,294.82 L884.59,296.93 L884.68,299.18 L884.77,301.52 L884.86,303.89 L884.95,306.23 L885.04,308.50 L885.12,310.66 L885.21,312.68 L885.30,314.54 L885.39,316.22 L885.48,317.72 L885.57,319.04 L885.66,320.18 L885.75,321.16 L885.83,321.98 L885.92,322.66 L886.01,323.22 L886.10,323.67 L886.19,324.04 L886.28,324.32 L886.37,324.55 L886.46,324.72 L886.54,324.85 L886.63,324.95 L886.72,325.02 L886.81,325.07 L886.90,325.11 L886.99,325.14 L887.08,325.16 L887.17,325.17 L887.25,325.18 L887.34,325.19 L887.43,325.19 L887.52,325.19 L887.61,325.20 L887.70,325.20 L887.79,325.20 L887.87,325.20 L887.96,325.20 L888.05,325.20 L888.14,325.20 L888.23,325.20 L888.32,325.20 L888.41,325.20 L888.50,325.20 L888.58,325.20 L888.67,325.20 L888.76,325.20 L888.85,325.20 L888.94,325.20 L889.03,325.20 L889.12,325.20 L889.21,325.20 L889.29,325.20 L889.38,325.20 L889.47,325.20 L889.56,325.20 L889.65,325.20 L889.74,325.20 L889.83,325.20 L889.92,325.20 L890.00,325.20 L890.09,325.20 L890.18,325.20 L890.27,325.20 L890.36,325.20 L890.45,325.20 L890.54,325.20 L890.63,325.20 L890.71,325.20 L890.80,325.20 L890.89,325.20 L890.98,325.20 L891.07,325.20 L891.16,325.20 L891.25,325.20 L891.34,325.20 L891.42,325.20 L891.51,325.20 L891.60,325.20 L891.69,325.19 L891.78,325.18 L891.87,325.17 L891.96,325.16 L892.05,325.13 L892.13,325.09 L892.22,325.03 L892.31,324.94 L892.40,324.82 L892.49,324.67 L892.58,324.46 L892.67,324.20 L892.76,323.89 L892.84,323.52 L892.93,323.11 L893.02,322.66 L893.11,322.19 L893.20,321.73 L893.29,321.29 L893.38,320.92 L893.47,320.63 L893.55,320.45 L893.64,320.38 L893.73,320.40 L893.82,320.46 L893.91,320.56 L894.00,320.70 L894.09,320.85 L894.18,321.02 L894.26,321.17 L894.35,321.29 L894.44,321.37 L894.53,321.38 L894.62,321.32 L894.71,321.16 L894.80,320.92 L894.89,320.59 L894.97,320.19 L895.06,319.74 L895.15,319.27 L895.24,318.82 L895.33,318.44 L895.42,318.16 L895.51,318.00 L895.60,318.00 L895.68,318.11 L895.77,318.28 L895.86,318.51 L895.95,318.80 L896.04,319.13 L896.13,319.51 L896.22,319.92 L896.31,320.35 L896.39,320.79 L896.48,321.24 L896.57,321.67 L896.66,322.10 L896.75,322.50 L896.84,322.88 L896.93,323.22 L897.01,323.54 L897.10,323.81 L897.19,324.06 L897.28,324.27 L897.37,324.45 L897.46,324.60 L897.55,324.73 L897.64,324.83 L897.72,324.92 L897.81,324.98 L897.90,325.04 L897.99,325.08 L898.08,325.11 L898.17,325.13 L898.26,325.15 L898.35,325.17 L898.43,325.18 L898.52,325.18 L898.61,325.19 L898.70,325.19 L898.79,325.19 L898.88,325.20 L898.97,325.20 L899.06,325.20 L899.14,325.20 L899.23,325.20 L899.32,325.20 L899.41,325.20 L899.50,325.20 L899.59,325.20 L899.68,325.20 L899.77,325.20 L899.85,325.20 L899.94,325.20 L900.03,325.20 L900.12,325.20 L900.21,325.20 L900.30,325.20 L900.39,325.20 L900.48,325.20 L900.56,325.20 L900.65,325.20 L900.74,325.19 L900.83,325.19 L900.92,325.18 L901.01,325.16 L901.10,325.14 L901.19,325.09 L901.27,325.02 L901.36,324.90 L901.45,324.71 L901.54,324.43 L901.63,324.00 L901.72,323.38 L901.81,322.49 L901.90,321.25 L901.98,319.55 L902.07,317.29 L902.16,314.34 L902.25,310.61 L902.34,305.98 L902.43,300.39 L902.52,293.83 L902.61,286.33 L902.69,278.01 L902.78,269.07 L902.87,259.79 L902.96,250.51 L903.05,241.64 L903.14,233.60 L903.23,226.82 L903.32,221.67 L903.40,218.46 L903.49,217.36 L903.58,217.85 L903.67,219.30 L903.76,221.67 L903.85,224.91 L903.94,228.92 L904.03,233.60 L904.11,238.85 L904.20,244.53 L904.29,250.51 L904.38,256.68 L904.47,262.90 L904.56,269.07 L904.65,275.09 L904.74,280.87 L904.82,286.33 L904.91,291.43 L905.00,296.12 L905.09,300.39 L905.18,304.22 L905.27,307.62 L905.36,310.61 L905.44,313.19 L905.53,315.41 L905.62,317.29 L905.71,318.86 L905.80,320.17 L905.89,321.25 L905.98,322.12 L906.07,322.82 L906.15,323.38 L906.24,323.82 L906.33,324.16 L906.42,324.43 L906.51,324.63 L906.60,324.78 L906.69,324.90 L906.78,324.98 L906.86,325.05 L906.95,325.09 L907.04,325.12 L907.13,325.14 L907.22,325.16 L907.31,325.17 L907.40,325.17 L907.49,325.16 L907.57,325.15 L907.66,325.13 L907.75,325.10 L907.84,325.05 L907.93,324.98 L908.02,324.89 L908.11,324.78 L908.20,324.63 L908.28,324.45 L908.37,324.24 L908.46,324.00 L908.55,323.75 L908.64,323.48 L908.73,323.22 L908.82,322.97 L908.91,322.76 L908.99,322.59 L909.08,322.49 L909.17,322.45 L909.26,322.47 L909.35,322.51 L909.44,322.59 L909.53,322.69 L909.62,322.81 L909.70,322.95 L909.79,323.11 L909.88,323.27 L909.97,323.45 L910.06,323.62 L910.15,323.79 L910.24,323.96 L910.33,324.12 L910.41,324.27 L910.50,324.41 L910.59,324.53 L910.68,324.65 L910.77,324.74 L910.86,324.83 L910.95,324.90 L911.04,324.96 L911.12,325.01 L911.21,325.05 L911.30,325.09 L911.39,325.11 L911.48,325.14 L911.57,325.15 L911.66,325.16 L911.75,325.17 L911.83,325.18 L911.92,325.19 L912.01,325.19 L912.10,325.19 L912.19,325.20 L912.28,325.20 L912.37,325.20 L912.46,325.20 L912.54,325.20 L912.63,325.20 L912.72,325.20 L912.81,325.20 L912.90,325.20 L912.99,325.20 L913.08,325.20 L913.17,325.20 L913.25,325.20 L913.34,325.20 L913.43,325.20 L913.52,325.20 L913.61,325.20 L913.70,325.20 L913.79,325.20 L913.88,325.19 L913.96,325.19 L914.05,325.18 L914.14,325.16 L914.23,325.14 L914.32,325.10 L914.41,325.05 L914.50,324.98 L914.58,324.88 L914.67,324.74 L914.76,324.57 L914.85,324.35 L914.94,324.08 L915.03,323.76 L915.12,323.41 L915.21,323.02 L915.29,322.62 L915.38,322.22 L915.47,321.85 L915.56,321.53 L915.65,321.29 L915.74,321.13 L915.83,321.08 L915.92,321.10 L916.00,321.17 L916.09,321.28 L916.18,321.43 L916.27,321.61 L916.36,321.82 L916.45,322.06 L916.54,322.31 L916.63,322.57 L916.71,322.83 L916.80,323.09 L916.89,323.34 L916.98,323.58 L917.07,323.81 L917.16,324.02 L917.25,324.20 L917.34,324.37 L917.42,324.52 L917.51,324.64 L917.60,324.75 L917.69,324.84 L917.78,324.91 L917.87,324.97 L917.96,325.02 L918.05,325.04 L918.13,325.05 L918.22,325.04 L918.31,324.99 L918.40,324.90 L918.49,324.74 L918.58,324.48 L918.67,324.08 L918.76,323.49 L918.84,322.64 L918.93,321.48 L919.02,319.91 L919.11,317.88 L919.20,315.33 L919.29,312.24 L919.38,308.60 L919.47,304.49 L919.55,300.03 L919.64,295.40 L919.73,290.81 L919.82,286.54 L919.91,282.86 L920.00,280.01 L920.09,278.21 L920.18,277.60 L920.26,277.86 L920.35,278.64 L920.44,279.91 L920.53,281.64 L920.62,283.76 L920.71,286.21 L920.80,288.92 L920.89,291.81 L920.97,294.81 L921.06,297.85 L921.15,300.85 L921.24,303.76 L921.33,306.53 L921.42,309.12 L921.51,311.50 L921.60,313.65 L921.68,315.55 L921.77,317.21 L921.86,318.63 L921.95,319.80 L922.04,320.74 L922.13,321.46 L922.22,321.96 L922.31,322.25 L922.39,322.34 L922.48,322.22 L922.57,321.93 L922.66,321.47 L922.75,320.87 L922.84,320.15 L922.93,319.38 L923.01,318.59 L923.10,317.83 L923.19,317.18 L923.28,316.67 L923.37,316.35 L923.46,316.25 L923.55,316.30 L923.64,316.46 L923.72,316.70 L923.81,317.02 L923.90,317.42 L923.99,317.88 L924.08,318.39 L924.17,318.94 L924.26,319.50 L924.35,320.07 L924.43,320.63 L924.52,321.18 L924.61,321.70 L924.70,322.19 L924.79,322.63 L924.88,323.04 L924.97,323.40 L925.06,323.72 L925.14,323.99 L925.23,324.23 L925.32,324.42 L925.41,324.59 L925.50,324.72 L925.59,324.83 L925.68,324.91 L925.77,324.98 L925.85,325.02 L925.94,325.05 L926.03,325.06 L926.12,325.04 L926.21,324.99 L926.30,324.90 L926.39,324.75 L926.48,324.52 L926.56,324.20 L926.65,323.74 L926.74,323.14 L926.83,322.35 L926.92,321.35 L927.01,320.14 L927.10,318.72 L927.19,317.11 L927.27,315.35 L927.36,313.51 L927.45,311.67 L927.54,309.93 L927.63,308.37 L927.72,307.08 L927.81,306.12 L927.90,305.53 L927.98,305.16 L928.07,304.84 L928.16,304.57 L928.25,304.30 L928.34,304.02 L928.43,303.73 L928.52,303.44 L928.61,303.16 L928.69,302.94 L928.78,302.83 L928.87,302.88 L928.96,303.16 L929.05,303.69 L929.14,304.51 L929.23,305.52 L929.32,306.60 L929.40,307.74 L929.49,308.92 L929.58,310.13 L929.67,311.36 L929.76,312.59 L929.85,313.80 L929.94,314.98 L930.03,316.11 L930.11,317.18 L930.20,318.17 L930.29,319.07 L930.38,319.86 L930.47,320.53 L930.56,321.07 L930.65,321.48 L930.74,321.74 L930.82,321.85 L930.91,321.82 L931.00,321.65 L931.09,321.36 L931.18,320.97 L931.27,320.52 L931.36,320.03 L931.45,319.56 L931.53,319.14 L931.62,318.82 L931.71,318.62 L931.80,318.58 L931.89,318.64 L931.98,318.77 L932.07,318.96 L932.15,319.20 L932.24,319.50 L932.33,319.84 L932.42,320.22 L932.51,320.62 L932.60,321.03 L932.69,321.45 L932.78,321.86 L932.86,322.26 L932.95,322.64 L933.04,323.00 L933.13,323.32 L933.22,323.62 L933.31,323.88 L933.40,324.11 L933.49,324.31 L933.57,324.47 L933.66,324.61 L933.75,324.71 L933.84,324.79 L933.93,324.83 L934.02,324.85 L934.11,324.83 L934.20,324.78 L934.28,324.69 L934.37,324.57 L934.46,324.41 L934.55,324.21 L934.64,323.98 L934.73,323.73 L934.82,323.47 L934.91,323.21 L934.99,322.96 L935.08,322.75 L935.17,322.59 L935.26,322.49 L935.35,322.45 L935.44,322.47 L935.53,322.51 L935.62,322.59 L935.70,322.69 L935.79,322.81 L935.88,322.95 L935.97,323.11 L936.06,323.27 L936.15,323.45 L936.24,323.62 L936.33,323.79 L936.41,323.96 L936.50,324.12 L936.59,324.27 L936.68,324.41 L936.77,324.53 L936.86,324.64 L936.95,324.73 L937.04,324.80 L937.12,324.86 L937.21,324.89 L937.30,324.90 L937.39,324.88 L937.48,324.82 L937.57,324.71 L937.66,324.54 L937.75,324.31 L937.83,324.00 L937.92,323.61 L938.01,323.12 L938.10,322.55 L938.19,321.90 L938.28,321.20 L938.37,320.46 L938.46,319.74 L938.54,319.06 L938.63,318.48 L938.72,318.03 L938.81,317.74 L938.90,317.64 L938.99,317.69 L939.08,317.81 L939.17,318.01 L939.25,318.29 L939.34,318.62 L939.43,319.01 L939.52,319.44 L939.61,319.90 L939.70,320.38 L939.79,320.86 L939.88,321.34 L939.96,321.80 L940.05,322.24 L940.14,322.65 L940.23,323.03 L940.32,323.37 L940.41,323.68 L940.50,323.94 L940.58,324.18 L940.67,324.38 L940.76,324.54 L940.85,324.68 L940.94,324.80 L941.03,324.89 L941.12,324.96 L941.21,325.02 L941.29,325.07 L941.38,325.10 L941.47,325.13 L941.56,325.15 L941.65,325.16 L941.74,325.17 L941.83,325.18 L941.92,325.19 L942.00,325.19 L942.09,325.19 L942.18,325.20 L942.27,325.20 L942.36,325.20 L942.45,325.20 L942.54,325.20 L942.63,325.20 L942.71,325.20 L942.80,325.20 L942.89,325.20 L942.98,325.20 L943.07,325.20 L943.16,325.20 L943.25,325.20 L943.34,325.20 L943.42,325.20 L943.51,325.20 L943.60,325.20 L943.69,325.20 L943.78,325.20 L943.87,325.20 L943.96,325.19 L944.05,325.19 L944.13,325.18 L944.22,325.16 L944.31,325.14 L944.40,325.10 L944.49,325.04 L944.58,324.95 L944.67,324.83 L944.76,324.66 L944.84,324.44 L944.93,324.14 L945.02,323.78 L945.11,323.33 L945.20,322.80 L945.29,322.21 L945.38,321.57 L945.47,320.90 L945.55,320.24 L945.64,319.62 L945.73,319.09 L945.82,318.68 L945.91,318.42 L946.00,318.33 L946.09,318.37 L946.18,318.48 L946.26,318.67 L946.35,318.91 L946.44,319.22 L946.53,319.57 L946.62,319.96 L946.71,320.38 L946.80,320.81 L946.89,321.25 L946.97,321.69 L947.06,322.11 L947.15,322.51 L947.24,322.88 L947.33,323.23 L947.42,323.54 L947.51,323.81 L947.60,324.06 L947.68,324.27 L947.77,324.45 L947.86,324.60 L947.95,324.73 L948.04,324.83 L948.13,324.92 L948.22,324.98 L948.31,325.04 L948.39,325.08 L948.48,325.11 L948.57,325.13 L948.66,325.15 L948.75,325.17 L948.84,325.18 L948.93,325.18 L949.02,325.19 L949.10,325.19 L949.19,325.19 L949.28,325.20 L949.37,325.20 L949.46,325.20 L949.55,325.20 L949.64,325.20 L949.72,325.20 L949.81,325.20 L949.90,325.20 L949.99,325.20 L950.08,325.20 L950.17,325.20 L950.26,325.20 L950.35,325.20 L950.43,325.20 L950.52,325.20 L950.61,325.20 L950.70,325.20 L950.79,325.20 L950.88,325.20 L950.97,325.20 L951.06,325.20 L951.14,325.20 L951.23,325.20 L951.32,325.20 L951.41,325.20 L951.50,325.20 L951.59,325.20 L951.68,325.20 L951.77,325.20 L951.85,325.20 L951.94,325.20 L952.03,325.20 L952.12,325.20 L952.21,325.20 L952.30,325.20 L952.39,325.20 L952.48,325.20 L952.56,325.20 L952.65,325.20 L952.74,325.20 L952.83,325.20 L952.92,325.20 L953.01,325.20 L953.10,325.20 L953.19,325.20 L953.27,325.20 L953.36,325.20 L953.45,325.20 L953.54,325.20 L953.63,325.20 L953.72,325.20 L953.81,325.20 L953.90,325.20 L953.98,325.20 L954.07,325.20 L954.16,325.20 L954.25,325.20 L954.34,325.20 L954.43,325.20 L954.52,325.20 L954.61,325.20 L954.69,325.20 L954.78,325.20 L954.87,325.20 L954.96,325.20 L955.05,325.20 L955.14,325.20 L955.23,325.20 L955.32,325.20 L955.40,325.20 L955.49,325.20 L955.58,325.20 L955.67,325.20 L955.76,325.20 L955.85,325.20 L955.94,325.20 L956.03,325.20 L956.11,325.20 L956.20,325.20 L956.29,325.20 L956.38,325.20 L956.47,325.20 L956.56,325.20 L956.65,325.20 L956.74,325.20 L956.82,325.20 L956.91,325.20 L957.00,325.20 L957.09,325.20 L957.18,325.20 L957.27,325.20 L957.36,325.20 L957.45,325.20 L957.53,325.20 L957.62,325.20 L957.71,325.20 L957.80,325.20 L957.89,325.20 L957.98,325.20 L958.07,325.20 L958.15,325.20 L958.24,325.20 L958.33,325.20 L958.42,325.20 L958.51,325.20 L958.60,325.20 L958.69,325.20 L958.78,325.20 L958.86,325.20 L958.95,325.20 L959.04,325.20 L959.13,325.20 L959.22,325.20 L959.31,325.20 L959.40,325.20 L959.49,325.20 L959.57,325.20 L959.66,325.20 L959.75,325.20 L959.84,325.20 L959.93,325.20 L960.02,325.20 L960.11,325.20 L960.20,325.20 L960.28,325.20 L960.37,325.20 L960.46,325.20 L960.55,325.20 L960.64,325.20 L960.73,325.20 L960.82,325.20 L960.91,325.20 L960.99,325.20 L961.08,325.20 L961.17,325.20 L961.26,325.20 L961.35,325.20 L961.44,325.20 L961.53,325.20 L961.62,325.20 L961.70,325.20 L961.79,325.20 L961.88,325.20 L961.97,325.20 L962.06,325.20 L962.15,325.20 L962.24,325.20 L962.33,325.20 L962.41,325.20 L962.50,325.20 L962.59,325.20 L962.68,325.20 L962.77,325.20 L962.86,325.20 L962.95,325.20 L963.04,325.20 L963.12,325.20 L963.21,325.20 L963.30,325.20 L963.39,325.20 L963.48,325.20 L963.57,325.20 L963.66,325.20 L963.75,325.20 L963.83,325.20 L963.92,325.20 L964.01,325.20 L964.10,325.20 L964.19,325.20 L964.28,325.20 L964.37,325.20 L964.46,325.20 L964.54,325.20 L964.63,325.20 L964.72,325.20 L964.81,325.20 L964.90,325.20 L964.99,325.20 L965.08,325.20 L965.17,325.20 L965.25,325.20 L965.34,325.19 L965.43,325.19 L965.52,325.18 L965.61,325.17 L965.70,325.16 L965.79,325.14 L965.88,325.10 L965.96,325.05 L966.05,324.99 L966.14,324.90 L966.23,324.78 L966.32,324.63 L966.41,324.45 L966.50,324.24 L966.59,324.00 L966.67,323.75 L966.76,323.48 L966.85,323.22 L966.94,322.97 L967.03,322.76 L967.12,322.59 L967.21,322.49 L967.29,322.45 L967.38,322.47 L967.47,322.51 L967.56,322.59 L967.65,322.69 L967.74,322.81 L967.83,322.95 L967.92,323.11 L968.00,323.27 L968.09,323.45 L968.18,323.62 L968.27,323.79 L968.36,323.96 L968.45,324.12 L968.54,324.27 L968.63,324.41 L968.71,324.53 L968.80,324.65 L968.89,324.74 L968.98,324.83 L969.07,324.90 L969.16,324.96 L969.25,325.01 L969.34,325.05 L969.42,325.09 L969.51,325.11 L969.60,325.14 L969.69,325.15 L969.78,325.16 L969.87,325.17 L969.96,325.18 L970.05,325.19 L970.13,325.19 L970.22,325.19 L970.31,325.20 L970.40,325.20 L970.49,325.20 L970.58,325.20 L970.67,325.20 L970.76,325.20 L970.84,325.20 L970.93,325.20 L971.02,325.20 L971.11,325.20 L971.20,325.20 L971.29,325.20 L971.38,325.20 L971.47,325.20 L971.55,325.20 L971.64,325.20 L971.73,325.20 L971.82,325.19 L971.91,325.19 L972.00,325.18 L972.09,325.16 L972.18,325.13 L972.26,325.08 L972.35,324.99 L972.44,324.85 L972.53,324.64 L972.62,324.32 L972.71,323.85 L972.80,323.18 L972.89,322.25 L972.97,321.01 L973.06,319.40 L973.15,317.37 L973.24,314.91 L973.33,312.03 L973.42,308.77 L973.51,305.23 L973.60,301.55 L973.68,297.91 L973.77,294.52 L973.86,291.60 L973.95,289.34 L974.04,287.91 L974.13,287.42 L974.22,287.63 L974.31,288.25 L974.39,289.26 L974.48,290.63 L974.57,292.31 L974.66,294.25 L974.75,296.40 L974.84,298.70 L974.93,301.08 L975.02,303.49 L975.10,305.88 L975.19,308.19 L975.28,310.39 L975.37,312.45 L975.46,314.34 L975.55,316.05 L975.64,317.58 L975.72,318.92 L975.81,320.09 L975.90,321.08 L975.99,321.92 L976.08,322.61 L976.17,323.18 L976.26,323.65 L976.35,324.02 L976.43,324.31 L976.52,324.53 L976.61,324.71 L976.70,324.84 L976.79,324.94 L976.88,325.02 L976.97,325.07 L977.06,325.11 L977.14,325.14 L977.23,325.16 L977.32,325.17 L977.41,325.18 L977.50,325.19 L977.59,325.19 L977.68,325.19 L977.77,325.20 L977.85,325.20 L977.94,325.20 L978.03,325.20 L978.12,325.20 L978.21,325.20 L978.30,325.20 L978.39,325.20 L978.48,325.20 L978.56,325.20 L978.65,325.20 L978.74,325.20 L978.83,325.20 L978.92,325.20 L979.01,325.20 L979.10,325.20 L979.19,325.20 L979.27,325.20 L979.36,325.20 L979.45,325.20 L979.54,325.20 L979.63,325.20 L979.72,325.20 L979.81,325.20 L979.90,325.20 L979.98,325.20 L980.07,325.20 L980.16,325.20 L980.25,325.20 L980.34,325.20 L980.43,325.20 L980.52,325.20 L980.61,325.20 L980.69,325.20 L980.78,325.20 L980.87,325.20 L980.96,325.20 L981.05,325.20 L981.14,325.20 L981.23,325.20 L981.32,325.20 L981.40,325.20 L981.49,325.20 L981.58,325.20 L981.67,325.19 L981.76,325.18 L981.85,325.17 L981.94,325.15 L982.03,325.11 L982.11,325.05 L982.20,324.96 L982.29,324.82 L982.38,324.61 L982.47,324.32 L982.56,323.91 L982.65,323.37 L982.74,322.67 L982.82,321.78 L982.91,320.71 L983.00,319.45 L983.09,318.03 L983.18,316.48 L983.27,314.88 L983.36,313.29 L983.45,311.81 L983.53,310.54 L983.62,309.55 L983.71,308.93 L983.80,308.71 L983.89,308.81 L983.98,309.08 L984.07,309.52 L984.16,310.11 L984.24,310.85 L984.33,311.70 L984.42,312.63 L984.51,313.64 L984.60,314.68 L984.69,315.73 L984.78,316.77 L984.86,317.78 L984.95,318.74 L985.04,319.63 L985.13,320.46 L985.22,321.21 L985.31,321.88 L985.40,322.46 L985.49,322.97 L985.57,323.40 L985.66,323.77 L985.75,324.07 L985.84,324.32 L985.93,324.52 L986.02,324.68 L986.11,324.81 L986.20,324.91 L986.28,324.99 L986.37,325.04 L986.46,325.09 L986.55,325.12 L986.64,325.14 L986.73,325.16 L986.82,325.17 L986.91,325.18 L986.99,325.19 L987.08,325.19 L987.17,325.19 L987.26,325.20 L987.35,325.20 L987.44,325.20 L987.53,325.20 L987.62,325.20 L987.70,325.20 L987.79,325.20 L987.88,325.20 L987.97,325.20 L988.06,325.20 L988.15,325.20 L988.24,325.20 L988.33,325.20 L988.41,325.20 L988.50,325.19 L988.59,325.18 L988.68,325.17 L988.77,325.14 L988.86,325.10 L988.95,325.02 L989.04,324.90 L989.12,324.70 L989.21,324.39 L989.30,323.93 L989.39,323.25 L989.48,322.27 L989.57,320.93 L989.66,319.14 L989.75,316.81 L989.83,313.88 L989.92,310.33 L990.01,306.16 L990.10,301.45 L990.19,296.33 L990.28,291.01 L990.37,285.75 L990.46,280.85 L990.54,276.63 L990.63,273.36 L990.72,271.30 L990.81,270.59 L990.90,270.90 L990.99,271.79 L991.08,273.25 L991.17,275.23 L991.25,277.66 L991.34,280.47 L991.43,283.58 L991.52,286.89 L991.61,290.34 L991.70,293.82 L991.79,297.27 L991.88,300.61 L991.96,303.79 L992.05,306.76 L992.14,309.50 L992.23,311.98 L992.32,314.19 L992.41,316.13 L992.50,317.81 L992.59,319.25 L992.67,320.46 L992.76,321.46 L992.85,322.29 L992.94,322.95 L993.03,323.49 L993.12,323.91 L993.21,324.24 L993.29,324.49 L993.38,324.68 L993.47,324.83 L993.56,324.93 L993.65,325.01 L993.74,325.07 L993.83,325.11 L993.92,325.14 L994.00,325.16 L994.09,325.17 L994.18,325.18 L994.27,325.19 L994.36,325.19 L994.45,325.20 L994.54,325.20 L994.63,325.20 L994.71,325.20 L994.80,325.20 L994.89,325.20 L994.98,325.20 L995.07,325.20 L995.16,325.20 L995.25,325.20 L995.34,325.20 L995.42,325.20 L995.51,325.20 L995.60,325.20 L995.69,325.20 L995.78,325.20 L995.87,325.20 L995.96,325.20 L996.05,325.20 L996.13,325.19 L996.22,325.18 L996.31,325.17 L996.40,325.15 L996.49,325.11 L996.58,325.05 L996.67,324.95 L996.76,324.79 L996.84,324.56 L996.93,324.20 L997.02,323.68 L997.11,322.94 L997.20,321.90 L997.29,320.49 L997.38,318.60 L997.47,316.14 L997.55,313.02 L997.64,309.16 L997.73,304.50 L997.82,299.02 L997.91,292.77 L998.00,285.83 L998.09,278.37 L998.18,270.62 L998.26,262.88 L998.35,255.48 L998.44,248.77 L998.53,243.11 L998.62,238.82 L998.71,236.13 L998.80,235.22 L998.89,235.63 L998.97,236.84 L999.06,238.82 L999.15,241.52 L999.24,244.86 L999.33,248.77 L999.42,253.15 L999.51,257.89 L999.60,262.88 L999.68,268.03 L999.77,273.22 L999.86,278.37 L999.95,283.39 L1000.04,288.21 L1000.13,292.77 L1000.22,297.02 L1000.31,300.94 L1000.39,304.50 L1000.48,307.70 L1000.57,310.53 L1000.66,313.02 L1000.75,315.18 L1000.84,317.03 L1000.93,318.60 L1001.02,319.91 L1001.10,321.01 L1001.19,321.90 L1001.28,322.63 L1001.37,323.22 L1001.46,323.68 L1001.55,324.05 L1001.64,324.33 L1001.73,324.56 L1001.81,324.72 L1001.90,324.85 L1001.99,324.95 L1002.08,325.02 L1002.17,325.07 L1002.26,325.11 L1002.35,325.14 L1002.43,325.16 L1002.52,325.17 L1002.61,325.18 L1002.70,325.19 L1002.79,325.19 L1002.88,325.19 L1002.97,325.20 L1003.06,325.20 L1003.14,325.20 L1003.23,325.20 L1003.32,325.20 L1003.41,325.20 L1003.50,325.20 L1003.59,325.20 L1003.68,325.20 L1003.77,325.20 L1003.85,325.20 L1003.94,325.20 L1004.03,325.20 L1004.12,325.20 L1004.21,325.20 L1004.30,325.20 L1004.39,325.20 L1004.48,325.20 L1004.56,325.20 L1004.65,325.20 L1004.74,325.20 L1004.83,325.20 L1004.92,325.20 L1005.01,325.20 L1005.10,325.20 L1005.19,325.20 L1005.27,325.20 L1005.36,325.20 L1005.45,325.20 L1005.54,325.20 L1005.63,325.20 L1005.72,325.20 L1005.81,325.20 L1005.90,325.20 L1005.98,325.20 L1006.07,325.20 L1006.16,325.20 L1006.25,325.20 L1006.34,325.20" stroke="#5c80ff" stroke-width="2.4"/>
</g>
<path d="M580.40,50.45 H1019.65 V325.20 H580.40 Z" fill="none" stroke="#262626" stroke-width="0.66"/>
<path d=" M615.89,325.20 v-4.20 M615.89,50.45 v4.20 M686.88,325.20 v-4.20 M686.88,50.45 v4.20 M757.87,325.20 v-4.20 M757.87,50.45 v4.20 M828.86,325.20 v-4.20 M828.86,50.45 v4.20 M899.85,325.20 v-4.20 M899.85,50.45 v4.20 M970.84,325.20 v-4.20 M970.84,50.45 v4.20 M580.40,325.20 h4.20 M1019.65,325.20 h-4.20 M580.40,256.51 h4.20 M1019.65,256.51 h-4.20 M580.40,187.82 h4.20 M1019.65,187.82 h-4.20 M580.40,119.14 h4.20 M1019.65,119.14 h-4.20 M580.40,50.45 h4.20 M1019.65,50.45 h-4.20" fill="none" stroke="#262626" stroke-width="0.5"/>
<g font-size="17.3" fill="#262626">
<text x="615.89" y="345.40" text-anchor="middle">1560</text>
<text x="686.88" y="345.40" text-anchor="middle">1640</text>
<text x="757.87" y="345.40" text-anchor="middle">1720</text>
<text x="828.86" y="345.40" text-anchor="middle">1800</text>
<text x="899.85" y="345.40" text-anchor="middle">1880</text>
<text x="970.84" y="345.40" text-anchor="middle">1960</text>
<text x="576.80" y="330.70" text-anchor="end">0</text>
<text x="576.80" y="262.01" text-anchor="end">0.1</text>
<text x="576.80" y="193.32" text-anchor="end">0.2</text>
<text x="576.80" y="124.64" text-anchor="end">0.3</text>
<text x="576.80" y="56.75" text-anchor="end">0.4</text>
</g>
</g>
<g>
<clipPath id="c2"><rect x="69.50" y="357.30" width="439.70" height="275.50"/></clipPath>
<rect x="247.04" y="357.60" width="71.01" height="274.90" fill="#d9d9d9"/>
<g clip-path="url(#c2)" fill="none" stroke-linejoin="round" stroke-linecap="round">
<rect x="71.34" y="600.81" width="8.4" height="8.4" fill="#000"/>
<rect x="89.09" y="601.87" width="8.4" height="8.4" fill="#000"/>
<rect x="109.60" y="603.56" width="8.4" height="8.4" fill="#000"/>
<rect x="126.55" y="610.11" width="8.4" height="8.4" fill="#000"/>
<rect x="139.78" y="619.21" width="8.4" height="8.4" fill="#000"/>
<rect x="177.86" y="613.71" width="8.4" height="8.4" fill="#000"/>
<rect x="206.09" y="616.46" width="8.4" height="8.4" fill="#000"/>
<rect x="217.80" y="615.40" width="8.4" height="8.4" fill="#000"/>
<rect x="242.84" y="612.65" width="8.4" height="8.4" fill="#000"/>
<rect x="267.87" y="614.13" width="8.4" height="8.4" fill="#000"/>
<rect x="278.34" y="614.98" width="8.4" height="8.4" fill="#000"/>
<rect x="293.34" y="608.00" width="8.4" height="8.4" fill="#000"/>
<rect x="308.52" y="603.77" width="8.4" height="8.4" fill="#000"/>
<rect x="310.74" y="598.70" width="8.4" height="8.4" fill="#000"/>
<rect x="336.31" y="595.52" width="8.4" height="8.4" fill="#000"/>
<rect x="342.52" y="596.58" width="8.4" height="8.4" fill="#000"/>
<rect x="348.74" y="601.23" width="8.4" height="8.4" fill="#000"/>
<rect x="353.71" y="593.62" width="8.4" height="8.4" fill="#000"/>
<rect x="359.92" y="596.16" width="8.4" height="8.4" fill="#000"/>
<rect x="364.45" y="594.47" width="8.4" height="8.4" fill="#000"/>
<rect x="367.47" y="592.35" width="8.4" height="8.4" fill="#000"/>
<rect x="371.10" y="591.08" width="8.4" height="8.4" fill="#000"/>
<rect x="375.10" y="590.45" width="8.4" height="8.4" fill="#000"/>
<rect x="378.65" y="589.39" width="8.4" height="8.4" fill="#000"/>
<rect x="382.20" y="587.70" width="8.4" height="8.4" fill="#000"/>
<rect x="385.31" y="585.58" width="8.4" height="8.4" fill="#000"/>
<rect x="388.59" y="578.40" width="8.4" height="8.4" fill="#000"/>
<rect x="391.52" y="577.13" width="8.4" height="8.4" fill="#000"/>
<rect x="394.63" y="576.28" width="8.4" height="8.4" fill="#000"/>
<rect x="397.29" y="575.43" width="8.4" height="8.4" fill="#000"/>
<rect x="399.78" y="573.53" width="8.4" height="8.4" fill="#000"/>
<rect x="402.62" y="571.63" width="8.4" height="8.4" fill="#000"/>
<rect x="404.84" y="569.09" width="8.4" height="8.4" fill="#000"/>
<rect x="407.32" y="566.55" width="8.4" height="8.4" fill="#000"/>
<rect x="409.72" y="564.44" width="8.4" height="8.4" fill="#000"/>
<rect x="412.29" y="562.32" width="8.4" height="8.4" fill="#000"/>
<rect x="415.04" y="561.06" width="8.4" height="8.4" fill="#000"/>
<rect x="417.71" y="559.36" width="8.4" height="8.4" fill="#000"/>
<rect x="420.37" y="557.25" width="8.4" height="8.4" fill="#000"/>
<rect x="423.48" y="553.87" width="8.4" height="8.4" fill="#000"/>
<rect x="426.14" y="551.12" width="8.4" height="8.4" fill="#000"/>
<rect x="428.80" y="548.37" width="8.4" height="8.4" fill="#000"/>
<rect x="432.18" y="544.56" width="8.4" height="8.4" fill="#000"/>
<rect x="434.57" y="542.45" width="8.4" height="8.4" fill="#000"/>
<rect x="436.79" y="543.29" width="8.4" height="8.4" fill="#000"/>
<rect x="438.57" y="541.18" width="8.4" height="8.4" fill="#000"/>
<rect x="440.79" y="541.60" width="8.4" height="8.4" fill="#000"/>
<rect x="443.01" y="542.45" width="8.4" height="8.4" fill="#000"/>
<rect x="445.94" y="541.18" width="8.4" height="8.4" fill="#000"/>
<rect x="447.89" y="539.06" width="8.4" height="8.4" fill="#000"/>
<rect x="449.66" y="536.53" width="8.4" height="8.4" fill="#000"/>
<rect x="451.88" y="534.41" width="8.4" height="8.4" fill="#000"/>
<rect x="454.10" y="531.87" width="8.4" height="8.4" fill="#000"/>
<rect x="456.32" y="528.49" width="8.4" height="8.4" fill="#000"/>
<rect x="458.10" y="525.53" width="8.4" height="8.4" fill="#000"/>
<rect x="459.61" y="523.42" width="8.4" height="8.4" fill="#000"/>
<rect x="461.20" y="520.03" width="8.4" height="8.4" fill="#000"/>
<rect x="462.98" y="515.38" width="8.4" height="8.4" fill="#000"/>
<rect x="464.58" y="510.30" width="8.4" height="8.4" fill="#000"/>
<rect x="466.09" y="506.92" width="8.4" height="8.4" fill="#000"/>
<rect x="467.42" y="502.69" width="8.4" height="8.4" fill="#000"/>
<rect x="469.55" y="497.41" width="8.4" height="8.4" fill="#000"/>
<rect x="470.52" y="494.23" width="8.4" height="8.4" fill="#000"/>
<rect x="471.32" y="491.27" width="8.4" height="8.4" fill="#000"/>
<path d="M69.50,605.01 L70.39,605.03 L71.28,605.06 L72.16,605.09 L73.05,605.12 L73.94,605.16 L74.83,605.20 L75.71,605.24 L76.60,605.28 L77.49,605.33 L78.38,605.38 L79.26,605.43 L80.15,605.48 L81.04,605.53 L81.93,605.59 L82.82,605.64 L83.70,605.70 L84.59,605.77 L85.48,605.85 L86.37,605.92 L87.25,606.01 L88.14,606.09 L89.03,606.18 L89.92,606.27 L90.80,606.36 L91.69,606.45 L92.58,606.54 L93.47,606.62 L94.35,606.70 L95.24,606.78 L96.13,606.86 L97.02,606.93 L97.91,607.01 L98.79,607.09 L99.68,607.16 L100.57,607.24 L101.46,607.32 L102.34,607.39 L103.23,607.46 L104.12,607.54 L105.01,607.61 L105.89,607.69 L106.78,607.76 L107.67,607.84 L108.56,607.93 L109.45,608.02 L110.33,608.11 L111.22,608.20 L112.11,608.28 L113.00,608.34 L113.88,608.38 L114.77,608.39 L115.66,608.39 L116.55,608.39 L117.43,608.39 L118.32,608.39 L119.21,608.39 L120.10,608.39 L120.99,608.39 L121.87,608.49 L122.76,608.78 L123.65,609.20 L124.54,609.73 L125.42,610.33 L126.31,610.97 L127.20,611.60 L128.09,612.20 L128.97,612.80 L129.86,613.45 L130.75,614.14 L131.64,614.86 L132.53,615.61 L133.41,616.36 L134.30,617.10 L135.19,617.83 L136.08,618.55 L136.96,619.31 L137.85,620.09 L138.74,620.88 L139.63,621.67 L140.51,622.44 L141.40,623.17 L142.29,623.85 L143.18,624.47 L144.06,625.00 L144.95,625.47 L145.84,625.90 L146.73,626.30 L147.62,626.66 L148.50,626.97 L149.39,627.21 L150.28,627.43 L151.17,627.64 L152.05,627.79 L152.94,627.85 L153.83,627.80 L154.72,627.66 L155.60,627.47 L156.49,627.24 L157.38,627.00 L158.27,626.73 L159.16,626.40 L160.04,626.01 L160.93,625.59 L161.82,625.13 L162.71,624.66 L163.59,624.16 L164.48,623.57 L165.37,622.93 L166.26,622.27 L167.14,621.65 L168.03,621.08 L168.92,620.55 L169.81,620.02 L170.70,619.52 L171.58,619.07 L172.47,618.71 L173.36,618.45 L174.25,618.22 L175.13,618.01 L176.02,617.81 L176.91,617.63 L177.80,617.48 L178.68,617.37 L179.57,617.30 L180.46,617.27 L181.35,617.27 L182.23,617.27 L183.12,617.27 L184.01,617.27 L184.90,617.27 L185.79,617.36 L186.67,617.57 L187.56,617.85 L188.45,618.12 L189.34,618.33 L190.22,618.48 L191.11,618.63 L192.00,618.77 L192.89,618.90 L193.77,619.02 L194.66,619.13 L195.55,619.24 L196.44,619.34 L197.33,619.44 L198.21,619.52 L199.10,619.60 L199.99,619.68 L200.88,619.75 L201.76,619.83 L202.65,619.91 L203.54,619.98 L204.43,620.04 L205.31,620.10 L206.20,620.15 L207.09,620.19 L207.98,620.22 L208.87,620.23 L209.75,620.23 L210.64,620.22 L211.53,620.20 L212.42,620.17 L213.30,620.14 L214.19,620.09 L215.08,620.05 L215.97,619.99 L216.85,619.94 L217.74,619.88 L218.63,619.82 L219.52,619.75 L220.41,619.69 L221.29,619.64 L222.18,619.58 L223.07,619.52 L223.96,619.45 L224.84,619.39 L225.73,619.32 L226.62,619.24 L227.51,619.17 L228.39,619.09 L229.28,619.01 L230.17,618.93 L231.06,618.85 L231.94,618.77 L232.83,618.68 L233.72,618.60 L234.61,618.52 L235.50,618.43 L236.38,618.34 L237.27,618.24 L238.16,618.14 L239.05,618.04 L239.93,617.93 L240.82,617.83 L241.71,617.73 L242.60,617.64 L243.48,617.55 L244.37,617.46 L245.26,617.39 L246.15,617.32 L247.04,617.26 L247.92,617.21 L248.81,617.16 L249.70,617.11 L250.59,617.06 L251.47,617.01 L252.36,616.96 L253.25,616.93 L254.14,616.90 L255.02,616.87 L255.91,616.86 L256.80,616.85 L257.69,616.87 L258.58,616.91 L259.46,616.98 L260.35,617.06 L261.24,617.16 L262.13,617.28 L263.01,617.40 L263.90,617.52 L264.79,617.65 L265.68,617.77 L266.56,617.88 L267.45,617.99 L268.34,618.11 L269.23,618.25 L270.11,618.40 L271.00,618.55 L271.89,618.69 L272.78,618.83 L273.67,618.95 L274.55,619.05 L275.44,619.13 L276.33,619.17 L277.22,619.18 L278.10,619.17 L278.99,619.16 L279.88,619.14 L280.77,619.11 L281.65,619.08 L282.54,619.05 L283.43,619.01 L284.32,618.97 L285.21,618.90 L286.09,618.79 L286.98,618.65 L287.87,618.49 L288.76,618.30 L289.64,618.11 L290.53,617.91 L291.42,617.69 L292.31,617.44 L293.19,617.15 L294.08,616.85 L294.97,616.53 L295.86,616.20 L296.75,615.86 L297.63,615.53 L298.52,615.21 L299.41,614.89 L300.30,614.56 L301.18,614.23 L302.07,613.89 L302.96,613.54 L303.85,613.18 L304.73,612.80 L305.62,612.41 L306.51,611.99 L307.40,611.54 L308.29,611.06 L309.17,610.57 L310.06,610.07 L310.95,609.56 L311.84,609.07 L312.72,608.58 L313.61,608.11 L314.50,607.60 L315.39,607.07 L316.27,606.55 L317.16,606.04 L318.05,605.57 L318.94,605.15 L319.82,604.80 L320.71,604.54 L321.60,604.32 L322.49,604.10 L323.38,603.90 L324.26,603.71 L325.15,603.56 L326.04,603.44 L326.93,603.36 L327.81,603.32 L328.70,603.33 L329.59,603.35 L330.48,603.40 L331.36,603.45 L332.25,603.52 L333.14,603.58 L334.03,603.65 L334.92,603.71 L335.80,603.76 L336.69,603.82 L337.58,603.89 L338.47,603.95 L339.35,604.02 L340.24,604.07 L341.13,604.12 L342.02,604.15 L342.90,604.16 L343.79,604.14 L344.68,604.07 L345.57,603.96 L346.46,603.81 L347.34,603.63 L348.23,603.43 L349.12,603.22 L350.01,603.00 L350.89,602.78 L351.78,602.48 L352.67,602.13 L353.56,601.73 L354.44,601.30 L355.33,600.87 L356.22,600.44 L357.11,600.05 L357.99,599.69 L358.88,599.33 L359.77,598.96 L360.66,598.61 L361.55,598.31 L362.43,598.09 L363.32,597.99 L364.21,597.92 L365.10,597.87 L365.98,597.83 L366.87,597.80 L367.76,597.76 L368.65,597.72 L369.53,597.67 L370.42,597.60 L371.31,597.51 L372.20,597.38 L373.09,597.24 L373.97,597.07 L374.86,596.88 L375.75,596.68 L376.64,596.46 L377.52,596.23 L378.41,595.98 L379.30,595.70 L380.19,595.39 L381.07,595.04 L381.96,594.64 L382.85,594.21 L383.74,593.73 L384.63,593.20 L385.51,592.62 L386.40,591.83 L387.29,590.83 L388.18,589.70 L389.06,588.54 L389.95,587.44 L390.84,586.43 L391.73,585.35 L392.61,584.27 L393.50,583.25 L394.39,582.39 L395.28,581.75 L396.17,581.29 L397.05,580.91 L397.94,580.58 L398.83,580.28 L399.72,580.01 L400.60,579.74 L401.49,579.53 L402.38,579.34 L403.27,579.16 L404.15,578.93 L405.04,578.65 L405.93,578.20 L406.82,577.51 L407.70,576.64 L408.59,575.69 L409.48,574.73 L410.37,573.84 L411.26,572.97 L412.14,572.07 L413.03,571.17 L413.92,570.29 L414.81,569.45 L415.69,568.69 L416.58,567.99 L417.47,567.33 L418.36,566.68 L419.24,566.03 L420.13,565.33 L421.02,564.58 L421.91,563.81 L422.80,563.02 L423.68,562.21 L424.57,561.39 L425.46,560.57 L426.35,559.73 L427.23,558.89 L428.12,558.03 L429.01,557.14 L429.90,556.23 L430.78,555.29 L431.67,554.31 L432.56,553.30 L433.45,552.27 L434.34,551.21 L435.22,550.13 L436.11,548.91 L437.00,547.61 L437.89,546.40 L438.77,545.45 L439.66,544.72 L440.55,544.12 L441.44,543.90 L442.32,544.18 L443.21,544.72 L444.10,545.28 L444.99,546.03 L445.87,546.71 L446.76,546.84 L447.65,546.70 L448.54,546.45 L449.43,546.11 L450.31,545.72 L451.20,545.10 L452.09,544.25 L452.98,543.25 L453.86,542.21 L454.75,541.00 L455.64,539.57 L456.53,538.14 L457.41,536.91 L458.30,535.98 L459.19,535.23" stroke="#ff0000" stroke-width="2.0"/>
<path d="M459.46,535.29 L460.34,533.30 L461.23,531.76 L462.12,530.05 L463.01,528.90 L463.89,527.57 L464.78,526.68 L465.67,523.85 L466.56,522.20 L467.45,520.34 L468.33,517.00 L469.22,514.76 L470.11,513.40 L471.00,511.02 L471.88,506.30 L472.77,505.24 L473.66,503.28 L474.55,501.31 L475.43,497.52 L476.32,494.20 L477.21,491.16 L478.10,487.12 L478.99,484.24 L479.87,481.41 L480.76,478.03 L481.65,474.64 L482.54,471.54 L483.42,468.79 L484.31,465.04 L485.20,460.01 L486.09,456.73 L486.97,454.05 L487.86,451.47 L488.75,449.69 L489.64,448.32 L490.53,444.66 L491.41,440.45 L492.30,436.67 L493.19,434.30 L494.08,428.02 L494.96,424.46 L495.85,421.99 L496.74,418.63 L497.63,414.10 L498.51,408.77 L499.40,405.14 L500.29,400.32 L501.18,395.87 L502.06,391.88 L502.95,388.05 L503.84,384.18 L504.73,378.96 L505.62,375.26 L506.50,370.60 L507.39,364.96 L508.28,360.45 L509.17,355.84" stroke="#5c80ff" stroke-width="2.4"/>
</g>
<path d="M69.50,357.60 H508.90 V632.50 H69.50 Z" fill="none" stroke="#262626" stroke-width="0.66"/>
<path d=" M105.01,632.50 v-4.20 M105.01,357.60 v4.20 M176.02,632.50 v-4.20 M176.02,357.60 v4.20 M247.04,632.50 v-4.20 M247.04,357.60 v4.20 M318.05,632.50 v-4.20 M318.05,357.60 v4.20 M389.06,632.50 v-4.20 M389.06,357.60 v4.20 M460.08,632.50 v-4.20 M460.08,357.60 v4.20 M69.50,611.35 h4.20 M508.90,611.35 h-4.20 M69.50,569.06 h4.20 M508.90,569.06 h-4.20 M69.50,526.77 h4.20 M508.90,526.77 h-4.20 M69.50,484.48 h4.20 M508.90,484.48 h-4.20 M69.50,442.18 h4.20 M508.90,442.18 h-4.20 M69.50,399.89 h4.20 M508.90,399.89 h-4.20 M69.50,357.60 h4.20 M508.90,357.60 h-4.20" fill="none" stroke="#262626" stroke-width="0.5"/>
<g font-size="17.3" fill="#262626">
<text x="105.01" y="652.70" text-anchor="middle">1560</text>
<text x="176.02" y="652.70" text-anchor="middle">1640</text>
<text x="247.04" y="652.70" text-anchor="middle">1720</text>
<text x="318.05" y="652.70" text-anchor="middle">1800</text>
<text x="389.06" y="652.70" text-anchor="middle">1880</text>
<text x="460.08" y="652.70" text-anchor="middle">1960</text>
<text x="65.90" y="616.85" text-anchor="end">280</text>
<text x="65.90" y="574.56" text-anchor="end">300</text>
<text x="65.90" y="532.27" text-anchor="end">320</text>
<text x="65.90" y="489.98" text-anchor="end">340</text>
<text x="65.90" y="447.68" text-anchor="end">360</text>
<text x="65.90" y="405.39" text-anchor="end">380</text>
<text x="65.90" y="363.90" text-anchor="end">400</text>
</g>
</g>
<g>
<clipPath id="c3"><rect x="580.40" y="357.30" width="439.55" height="275.50"/></clipPath>
<rect x="757.87" y="357.60" width="70.99" height="274.90" fill="#d9d9d9"/>
<g clip-path="url(#c3)" fill="none" stroke-linejoin="round" stroke-linecap="round">
<rect x="584.45" y="608.00" width="8.4" height="8.4" fill="#000"/>
<rect x="602.20" y="606.73" width="8.4" height="8.4" fill="#000"/>
<rect x="622.70" y="610.96" width="8.4" height="8.4" fill="#000"/>
<rect x="638.94" y="614.55" width="8.4" height="8.4" fill="#000"/>
<rect x="652.69" y="613.71" width="8.4" height="8.4" fill="#000"/>
<rect x="666.45" y="612.02" width="8.4" height="8.4" fill="#000"/>
<rect x="690.67" y="612.65" width="8.4" height="8.4" fill="#000"/>
<rect x="718.89" y="609.48" width="8.4" height="8.4" fill="#000"/>
<rect x="730.69" y="612.44" width="8.4" height="8.4" fill="#000"/>
<rect x="755.18" y="613.50" width="8.4" height="8.4" fill="#000"/>
<rect x="780.74" y="609.27" width="8.4" height="8.4" fill="#000"/>
<rect x="791.21" y="607.45" width="8.4" height="8.4" fill="#000"/>
<rect x="806.47" y="604.40" width="8.4" height="8.4" fill="#000"/>
<rect x="822.45" y="603.14" width="8.4" height="8.4" fill="#000"/>
<rect x="849.59" y="595.39" width="8.4" height="8.4" fill="#000"/>
<rect x="851.57" y="595.28" width="8.4" height="8.4" fill="#000"/>
<rect x="854.93" y="593.18" width="8.4" height="8.4" fill="#000"/>
<rect x="856.10" y="594.52" width="8.4" height="8.4" fill="#000"/>
<rect x="858.38" y="593.17" width="8.4" height="8.4" fill="#000"/>
<rect x="860.74" y="592.38" width="8.4" height="8.4" fill="#000"/>
<rect x="864.12" y="591.76" width="8.4" height="8.4" fill="#000"/>
<rect x="866.56" y="590.25" width="8.4" height="8.4" fill="#000"/>
<rect x="867.92" y="589.96" width="8.4" height="8.4" fill="#000"/>
<rect x="870.69" y="589.68" width="8.4" height="8.4" fill="#000"/>
<rect x="873.12" y="588.47" width="8.4" height="8.4" fill="#000"/>
<rect x="875.77" y="589.18" width="8.4" height="8.4" fill="#000"/>
<rect x="878.33" y="586.71" width="8.4" height="8.4" fill="#000"/>
<rect x="880.35" y="587.30" width="8.4" height="8.4" fill="#000"/>
<rect x="882.87" y="584.41" width="8.4" height="8.4" fill="#000"/>
<rect x="886.21" y="583.79" width="8.4" height="8.4" fill="#000"/>
<rect x="888.49" y="582.51" width="8.4" height="8.4" fill="#000"/>
<rect x="890.05" y="583.85" width="8.4" height="8.4" fill="#000"/>
<rect x="892.88" y="581.61" width="8.4" height="8.4" fill="#000"/>
<rect x="894.81" y="581.72" width="8.4" height="8.4" fill="#000"/>
<rect x="897.28" y="580.16" width="8.4" height="8.4" fill="#000"/>
<rect x="899.46" y="579.78" width="8.4" height="8.4" fill="#000"/>
<rect x="902.15" y="577.23" width="8.4" height="8.4" fill="#000"/>
<rect x="904.75" y="577.50" width="8.4" height="8.4" fill="#000"/>
<rect x="906.66" y="576.07" width="8.4" height="8.4" fill="#000"/>
<rect x="908.94" y="575.40" width="8.4" height="8.4" fill="#000"/>
<rect x="911.83" y="573.87" width="8.4" height="8.4" fill="#000"/>
<rect x="914.17" y="571.60" width="8.4" height="8.4" fill="#000"/>
<rect x="916.93" y="568.42" width="8.4" height="8.4" fill="#000"/>
<rect x="919.30" y="565.88" width="8.4" height="8.4" fill="#000"/>
<rect x="921.19" y="563.62" width="8.4" height="8.4" fill="#000"/>
<rect x="923.53" y="560.84" width="8.4" height="8.4" fill="#000"/>
<rect x="925.90" y="557.99" width="8.4" height="8.4" fill="#000"/>
<rect x="927.88" y="555.81" width="8.4" height="8.4" fill="#000"/>
<rect x="931.73" y="550.87" width="8.4" height="8.4" fill="#000"/>
<rect x="933.67" y="547.33" width="8.4" height="8.4" fill="#000"/>
<rect x="936.12" y="544.65" width="8.4" height="8.4" fill="#000"/>
<rect x="938.31" y="542.88" width="8.4" height="8.4" fill="#000"/>
<rect x="939.87" y="540.56" width="8.4" height="8.4" fill="#000"/>
<rect x="942.40" y="537.59" width="8.4" height="8.4" fill="#000"/>
<rect x="944.76" y="533.44" width="8.4" height="8.4" fill="#000"/>
<rect x="947.24" y="529.17" width="8.4" height="8.4" fill="#000"/>
<rect x="950.43" y="525.88" width="8.4" height="8.4" fill="#000"/>
<rect x="952.87" y="523.74" width="8.4" height="8.4" fill="#000"/>
<rect x="955.61" y="519.04" width="8.4" height="8.4" fill="#000"/>
<rect x="957.69" y="517.04" width="8.4" height="8.4" fill="#000"/>
<rect x="960.27" y="511.16" width="8.4" height="8.4" fill="#000"/>
<rect x="962.37" y="506.25" width="8.4" height="8.4" fill="#000"/>
<rect x="964.73" y="502.06" width="8.4" height="8.4" fill="#000"/>
<rect x="967.00" y="495.97" width="8.4" height="8.4" fill="#000"/>
<rect x="968.81" y="487.33" width="8.4" height="8.4" fill="#000"/>
<rect x="972.16" y="472.50" width="8.4" height="8.4" fill="#000"/>
<rect x="985.39" y="441.97" width="8.4" height="8.4" fill="#000"/>
<rect x="983.67" y="446.62" width="8.4" height="8.4" fill="#000"/>
<rect x="982.34" y="450.61" width="8.4" height="8.4" fill="#000"/>
<rect x="980.75" y="453.93" width="8.4" height="8.4" fill="#000"/>
<rect x="979.43" y="458.59" width="8.4" height="8.4" fill="#000"/>
<rect x="977.57" y="463.24" width="8.4" height="8.4" fill="#000"/>
<rect x="975.72" y="467.89" width="8.4" height="8.4" fill="#000"/>
<rect x="973.07" y="481.85" width="8.4" height="8.4" fill="#000"/>
<rect x="971.47" y="486.50" width="8.4" height="8.4" fill="#000"/>
<rect x="970.02" y="490.49" width="8.4" height="8.4" fill="#000"/>
<rect x="968.29" y="494.47" width="8.4" height="8.4" fill="#000"/>
<rect x="966.44" y="499.13" width="8.4" height="8.4" fill="#000"/>
<path d="M992.05,408.77 L993.29,404.54 L994.63,400.53 L995.87,396.09 L997.20,392.28 L998.00,391.22 L998.71,389.32 L999.77,388.26 L1000.66,387.63 L1001.46,385.94 L1002.35,385.09 L1003.14,384.67 L1004.03,382.98 L1004.92,381.50 L1005.90,380.65 L1006.96,380.76 L1007.67,381.50 L1008.47,380.86 L1009.27,380.01 L1010.07,380.86 L1010.78,380.44 L1011.57,381.50 L1012.37,380.65 L1013.17,379.38 L1013.88,378.11 L1014.68,377.27 L1015.48,376.63 L1016.28,375.36 L1017.08,374.09 L1017.88,372.19 L1018.67,370.50 L1019.38,368.60 L1019.65,367.96" stroke="#5c80ff" stroke-width="2.4"/>
<path d="M580.40,608.39 L580.84,608.39 L581.29,608.39 L581.73,608.39 L582.17,608.39 L582.62,608.39 L583.06,608.39 L583.51,608.38 L583.95,608.38 L584.39,608.37 L584.84,608.37 L585.28,608.37 L585.72,608.36 L586.17,608.36 L586.61,608.35 L587.06,608.34 L587.50,608.34 L587.94,608.33 L588.39,608.32 L588.83,608.31 L589.27,608.31 L589.72,608.30 L590.16,608.29 L590.60,608.28 L591.05,608.27 L591.49,608.26 L591.94,608.25 L592.38,608.24 L592.82,608.23 L593.27,608.22 L593.71,608.21 L594.15,608.19 L594.60,608.18 L595.04,608.17 L595.49,608.14 L595.93,608.12 L596.37,608.08 L596.82,608.05 L597.26,608.00 L597.70,607.96 L598.15,607.91 L598.59,607.85 L599.03,607.80 L599.48,607.74 L599.92,607.67 L600.37,607.61 L600.81,607.55 L601.25,607.48 L601.70,607.41 L602.14,607.35 L602.58,607.28 L603.03,607.22 L603.47,607.15 L603.92,607.09 L604.36,607.03 L604.80,606.97 L605.25,606.91 L605.69,606.86 L606.13,606.79 L606.58,606.73 L607.02,606.66 L607.46,606.58 L607.91,606.51 L608.35,606.44 L608.80,606.36 L609.24,606.29 L609.68,606.22 L610.13,606.15 L610.57,606.09 L611.01,606.04 L611.46,605.98 L611.90,605.94 L612.35,605.90 L612.79,605.88 L613.23,605.86 L613.68,605.86 L614.12,605.87 L614.56,605.89 L615.01,605.94 L615.45,606.00 L615.89,606.07 L616.34,606.16 L616.78,606.26 L617.23,606.36 L617.67,606.48 L618.11,606.60 L618.56,606.73 L619.00,606.86 L619.44,606.99 L619.89,607.12 L620.33,607.26 L620.78,607.39 L621.22,607.54 L621.66,607.71 L622.11,607.90 L622.55,608.10 L622.99,608.32 L623.44,608.54 L623.88,608.77 L624.32,609.01 L624.77,609.25 L625.21,609.50 L625.66,609.74 L626.10,609.97 L626.54,610.20 L626.99,610.42 L627.43,610.63 L627.87,610.82 L628.32,611.00 L628.76,611.18 L629.21,611.35 L629.65,611.52 L630.09,611.69 L630.54,611.86 L630.98,612.02 L631.42,612.18 L631.87,612.34 L632.31,612.49 L632.76,612.64 L633.20,612.78 L633.64,612.92 L634.09,613.06 L634.53,613.18 L634.97,613.31 L635.42,613.42 L635.86,613.54 L636.30,613.65 L636.75,613.77 L637.19,613.89 L637.64,614.01 L638.08,614.12 L638.52,614.24 L638.97,614.35 L639.41,614.45 L639.85,614.55 L640.30,614.64 L640.74,614.72 L641.19,614.80 L641.63,614.85 L642.07,614.90 L642.52,614.93 L642.96,614.95 L643.40,614.95 L643.85,614.95 L644.29,614.95 L644.73,614.95 L645.18,614.95 L645.62,614.95 L646.07,614.95 L646.51,614.95 L646.95,614.95 L647.40,614.95 L647.84,614.95 L648.28,614.95 L648.73,614.95 L649.17,614.95 L649.62,614.95 L650.06,614.95 L650.50,614.95 L650.95,614.94 L651.39,614.92 L651.83,614.88 L652.28,614.82 L652.72,614.75 L653.16,614.66 L653.61,614.56 L654.05,614.46 L654.50,614.34 L654.94,614.23 L655.38,614.11 L655.83,613.99 L656.27,613.88 L656.71,613.77 L657.16,613.66 L657.60,613.57 L658.05,613.48 L658.49,613.41 L658.93,613.33 L659.38,613.26 L659.82,613.19 L660.26,613.12 L660.71,613.04 L661.15,612.97 L661.59,612.91 L662.04,612.84 L662.48,612.77 L662.93,612.70 L663.37,612.64 L663.81,612.57 L664.26,612.51 L664.70,612.45 L665.14,612.38 L665.59,612.32 L666.03,612.26 L666.48,612.20 L666.92,612.15 L667.36,612.09 L667.81,612.03 L668.25,611.98 L668.69,611.92 L669.14,611.86 L669.58,611.80 L670.02,611.74 L670.47,611.67 L670.91,611.61 L671.36,611.55 L671.80,611.48 L672.24,611.42 L672.69,611.36 L673.13,611.30 L673.57,611.24 L674.02,611.19 L674.46,611.14 L674.91,611.10 L675.35,611.06 L675.79,611.02 L676.24,610.99 L676.68,610.96 L677.12,610.95 L677.57,610.93 L678.01,610.93 L678.45,610.93 L678.90,610.94 L679.34,610.95 L679.79,610.96 L680.23,610.98 L680.67,611.00 L681.12,611.02 L681.56,611.04 L682.00,611.07 L682.45,611.10 L682.89,611.13 L683.34,611.16 L683.78,611.20 L684.22,611.23 L684.67,611.27 L685.11,611.31 L685.55,611.35 L686.00,611.38 L686.44,611.42 L686.88,611.46 L687.33,611.50 L687.77,611.54 L688.22,611.57 L688.66,611.61 L689.10,611.66 L689.55,611.72 L689.99,611.78 L690.43,611.84 L690.88,611.91 L691.32,611.98 L691.77,612.05 L692.21,612.11 L692.65,612.17 L693.10,612.23 L693.54,612.28 L693.98,612.33 L694.43,612.36 L694.87,612.39 L695.31,612.41 L695.76,612.41 L696.20,612.41 L696.65,612.41 L697.09,612.40 L697.53,612.39 L697.98,612.38 L698.42,612.37 L698.86,612.35 L699.31,612.34 L699.75,612.32 L700.20,612.30 L700.64,612.28 L701.08,612.26 L701.53,612.24 L701.97,612.21 L702.41,612.19 L702.86,612.16 L703.30,612.13 L703.74,612.10 L704.19,612.08 L704.63,612.05 L705.08,612.02 L705.52,611.99 L705.96,611.95 L706.41,611.91 L706.85,611.86 L707.29,611.81 L707.74,611.74 L708.18,611.68 L708.63,611.60 L709.07,611.53 L709.51,611.45 L709.96,611.37 L710.40,611.28 L710.84,611.20 L711.29,611.11 L711.73,611.03 L712.17,610.94 L712.62,610.86 L713.06,610.78 L713.51,610.70 L713.95,610.62 L714.39,610.55 L714.84,610.49 L715.28,610.43 L715.72,610.37 L716.17,610.32 L716.61,610.26 L717.06,610.20 L717.50,610.14 L717.94,610.09 L718.39,610.03 L718.83,609.97 L719.27,609.92 L719.72,609.87 L720.16,609.83 L720.61,609.78 L721.05,609.75 L721.49,609.72 L721.94,609.69 L722.38,609.67 L722.82,609.66 L723.27,609.66 L723.71,609.68 L724.15,609.70 L724.60,609.75 L725.04,609.80 L725.49,609.86 L725.93,609.93 L726.37,610.01 L726.82,610.10 L727.26,610.19 L727.70,610.28 L728.15,610.38 L728.59,610.48 L729.04,610.58 L729.48,610.68 L729.92,610.78 L730.37,610.88 L730.81,610.97 L731.25,611.06 L731.70,611.17 L732.14,611.27 L732.58,611.38 L733.03,611.50 L733.47,611.62 L733.92,611.74 L734.36,611.86 L734.80,611.98 L735.25,612.10 L735.69,612.22 L736.13,612.34 L736.58,612.46 L737.02,612.58 L737.47,612.69 L737.91,612.79 L738.35,612.90 L738.80,613.00 L739.24,613.11 L739.68,613.21 L740.13,613.32 L740.57,613.43 L741.01,613.53 L741.46,613.64 L741.90,613.74 L742.35,613.84 L742.79,613.93 L743.23,614.02 L743.68,614.11 L744.12,614.19 L744.56,614.26 L745.01,614.32 L745.45,614.38 L745.90,614.43 L746.34,614.48 L746.78,614.52 L747.23,614.57 L747.67,614.62 L748.11,614.66 L748.56,614.70 L749.00,614.74 L749.44,614.78 L749.89,614.82 L750.33,614.85 L750.78,614.88 L751.22,614.90 L751.66,614.92 L752.11,614.93 L752.55,614.94 L752.99,614.95 L753.44,614.94 L753.88,614.93 L754.33,614.90 L754.77,614.87 L755.21,614.82 L755.66,614.77 L756.10,614.71 L756.54,614.63 L756.99,614.56 L757.43,614.47 L757.87,614.38 L758.32,614.29 L758.76,614.19 L759.21,614.09 L759.65,613.98 L760.09,613.87 L760.54,613.72 L760.98,613.51 L761.42,613.25 L761.87,612.96 L762.31,612.64 L762.76,612.29 L763.20,611.92 L763.64,611.55 L764.09,611.18 L764.53,610.81 L764.97,610.46 L765.42,610.13 L765.86,609.83 L766.30,609.56 L766.75,609.35 L767.19,609.18 L767.64,609.02 L768.08,608.86 L768.52,608.70 L768.97,608.55 L769.41,608.39 L769.85,608.25 L770.30,608.11 L770.74,607.98 L771.19,607.85 L771.63,607.74 L772.07,607.63 L772.52,607.54 L772.96,607.45 L773.40,607.38 L773.85,607.33 L774.29,607.29 L774.73,607.26 L775.18,607.25 L775.62,607.26 L776.07,607.29 L776.51,607.33 L776.95,607.39 L777.40,607.46 L777.84,607.54 L778.28,607.62 L778.73,607.71 L779.17,607.80 L779.62,607.90 L780.06,607.99 L780.50,608.08 L780.95,608.16 L781.39,608.23 L781.83,608.29 L782.28,608.34 L782.72,608.37 L783.16,608.39 L783.61,608.39 L784.05,608.39 L784.50,608.38 L784.94,608.37 L785.38,608.36 L785.83,608.34 L786.27,608.33 L786.71,608.30 L787.16,608.28 L787.60,608.26 L788.05,608.23 L788.49,608.20 L788.93,608.17 L789.38,608.14 L789.82,608.10 L790.26,608.07 L790.71,608.03 L791.15,607.97 L791.59,607.89 L792.04,607.79 L792.48,607.67 L792.93,607.55 L793.37,607.41 L793.81,607.26 L794.26,607.10 L794.70,606.94 L795.14,606.78 L795.59,606.61 L796.03,606.45 L796.48,606.29 L796.92,606.14 L797.36,606.00 L797.81,605.87 L798.25,605.75 L798.69,605.64 L799.14,605.55 L799.58,605.45 L800.02,605.35 L800.47,605.26 L800.91,605.16 L801.36,605.07 L801.80,604.97 L802.24,604.88 L802.69,604.80 L803.13,604.72 L803.57,604.64 L804.02,604.56 L804.46,604.50 L804.91,604.43 L805.35,604.38 L805.79,604.33 L806.24,604.29 L806.68,604.26 L807.12,604.23 L807.57,604.21 L808.01,604.19 L808.46,604.18 L808.90,604.16 L809.34,604.15 L809.79,604.13 L810.23,604.12 L810.67,604.11 L811.12,604.10 L811.56,604.09 L812.00,604.08 L812.45,604.07 L812.89,604.06 L813.34,604.05 L813.78,604.04 L814.22,604.03 L814.67,604.01 L815.11,604.00 L815.55,603.98 L816.00,603.96 L816.44,603.94 L816.89,603.92 L817.33,603.90 L817.77,603.87 L818.22,603.84 L818.66,603.81 L819.10,603.77 L819.55,603.74 L819.99,603.70 L820.43,603.66 L820.88,603.62 L821.32,603.58 L821.77,603.54 L822.21,603.49 L822.65,603.44 L823.10,603.40 L823.54,603.35 L823.98,603.30 L824.43,603.25 L824.87,603.19 L825.32,603.14 L825.76,603.08 L826.20,603.03 L826.65,602.96 L827.09,602.89 L827.53,602.82 L827.98,602.74 L828.42,602.66 L828.86,602.58 L829.31,602.49 L829.75,602.40 L830.20,602.31 L830.64,602.22 L831.08,602.13 L831.53,602.03 L831.97,601.94 L832.41,601.84 L832.86,601.75 L833.30,601.66 L833.75,601.56 L834.19,601.47 L834.63,601.38 L835.08,601.30 L835.52,601.21 L835.96,601.12 L836.41,601.04 L836.85,600.95 L837.29,600.87 L837.74,600.78 L838.18,600.69 L838.63,600.61 L839.07,600.52 L839.51,600.43 L839.96,600.35 L840.40,600.26 L840.84,600.17 L841.29,600.08 L841.73,599.99 L842.18,599.89 L842.62,599.80 L843.06,599.70 L843.51,599.61 L843.95,599.51 L844.39,599.41 L844.84,599.31 L845.28,599.20 L845.72,599.10 L846.17,598.99 L846.61,598.88 L847.06,598.77 L847.50,598.66 L847.94,598.55 L848.39,598.44 L848.83,598.32 L849.27,598.21 L849.72,598.09 L850.16,597.97 L850.61,597.85 L851.05,597.73 L851.49,597.61 L851.94,597.48 L852.38,597.36 L852.82,597.23 L853.27,597.10 L853.71,596.97 L854.15,596.84 L854.60,596.71 L855.04,596.57 L855.49,596.43 L855.93,596.29 L856.37,596.14 L856.82,596.00 L857.26,595.85 L857.70,595.70 L858.15,595.55 L858.59,595.39 L859.04,595.24 L859.48,595.09 L859.92,594.94 L860.37,594.79 L860.81,594.64 L861.25,594.49 L861.70,594.34 L862.14,594.19 L862.58,594.05 L863.03,593.91 L863.47,593.77 L863.92,593.63 L864.36,593.48 L864.80,593.34 L865.25,593.20 L865.69,593.06 L866.13,592.92 L866.58,592.78 L867.02,592.64 L867.47,592.50 L867.91,592.36 L868.35,592.22 L868.80,592.09 L869.24,591.95 L869.68,591.82 L870.13,591.69 L870.57,591.56 L871.01,591.44 L871.46,591.31 L871.90,591.19 L872.35,591.08 L872.79,590.96 L873.23,590.86 L873.68,590.75 L874.12,590.66 L874.56,590.56 L875.01,590.47 L875.45,590.38 L875.90,590.29 L876.34,590.20 L876.78,590.11 L877.23,590.01 L877.67,589.92 L878.11,589.82 L878.56,589.71 L879.00,589.60 L879.44,589.48 L879.89,589.36 L880.33,589.23 L880.78,589.09 L881.22,588.94 L881.66,588.78 L882.11,588.62 L882.55,588.45 L882.99,588.27 L883.44,588.09 L883.88,587.91 L884.33,587.72 L884.77,587.53 L885.21,587.34 L885.66,587.15 L886.10,586.96 L886.54,586.77 L886.99,586.58 L887.43,586.40 L887.88,586.22 L888.32,586.05 L888.76,585.88 L889.21,585.71 L889.65,585.54 L890.09,585.37 L890.54,585.21 L890.98,585.04 L891.42,584.88 L891.87,584.72 L892.31,584.55 L892.76,584.39 L893.20,584.23 L893.64,584.06 L894.09,583.90 L894.53,583.74 L894.97,583.57 L895.42,583.41 L895.86,583.25 L896.31,583.08 L896.75,582.91 L897.19,582.75 L897.64,582.58 L898.08,582.41 L898.52,582.24 L898.97,582.06 L899.41,581.89 L899.85,581.73 L900.30,581.56 L900.74,581.39 L901.19,581.22 L901.63,581.05 L902.07,580.89 L902.52,580.72 L902.96,580.55 L903.40,580.37 L903.85,580.20 L904.29,580.03 L904.74,579.85 L905.18,579.67 L905.62,579.48 L906.07,579.30 L906.51,579.11 L906.95,578.91 L907.40,578.71 L907.84,578.51 L908.28,578.30 L908.73,578.09 L909.17,577.87 L909.62,577.64 L910.06,577.41 L910.50,577.18 L910.95,576.94 L911.39,576.69 L911.83,576.44 L912.28,576.18 L912.72,575.92 L913.17,575.66 L913.61,575.39 L914.05,575.11 L914.50,574.84 L914.94,574.55 L915.38,574.27 L915.83,573.98 L916.27,573.69 L916.71,573.40 L917.16,573.11 L917.60,572.81 L918.05,572.50 L918.49,572.19 L918.93,571.86 L919.38,571.52 L919.82,571.17 L920.26,570.81 L920.71,570.42 L921.15,570.02 L921.60,569.57 L922.04,569.08 L922.48,568.57 L922.93,568.04 L923.37,567.49 L923.81,566.95 L924.26,566.41 L924.70,565.87 L925.14,565.31 L925.59,564.75 L926.03,564.18 L926.48,563.60 L926.92,563.02 L927.36,562.43 L927.81,561.85 L928.25,561.26 L928.69,560.67 L929.14,560.07 L929.58,559.47 L930.03,558.86 L930.47,558.25 L930.91,557.64 L931.36,557.03 L931.80,556.42 L932.24,555.82 L932.69,555.22 L933.13,554.64 L933.57,554.06 L934.02,553.48 L934.46,552.91 L934.91,552.34 L935.35,551.78 L935.79,551.21 L936.24,550.65 L936.68,550.08 L937.12,549.51 L937.57,548.94 L938.01,548.37 L938.46,547.80 L938.90,547.23 L939.34,546.66 L939.79,546.08 L940.23,545.51 L940.67,544.94 L941.12,544.37 L941.56,543.80 L942.00,543.23 L942.45,542.66 L942.89,542.09 L943.34,541.52 L943.78,540.95 L944.22,540.37 L944.67,539.80 L945.11,539.23 L945.55,538.66 L946.00,538.09 L946.44,537.52 L946.89,536.95 L947.33,536.39 L947.77,535.82 L948.22,535.26 L948.66,534.69 L949.10,534.12 L949.55,533.54 L949.99,532.97 L950.43,532.38 L950.88,531.79 L951.32,531.19 L951.77,530.57 L952.21,529.95 L952.65,529.33 L953.10,528.72 L953.54,528.10 L953.98,527.50 L954.43,526.91 L954.87,526.35 L955.32,525.80 L955.76,525.27 L956.20,524.76 L956.65,524.26 L957.09,523.77 L957.53,523.27 L957.98,522.77 L958.42,522.25 L958.86,521.72 L959.31,521.17 L959.75,520.60 L960.20,520.02 L960.64,519.43 L961.08,518.81 L961.53,518.16 L961.97,517.46 L962.41,516.71 L962.86,515.90 L963.30,515.04 L963.75,514.15 L964.19,513.25 L964.63,512.36 L965.08,511.48 L965.52,510.60 L965.96,509.71 L966.41,508.80 L966.85,507.87 L967.29,506.89 L967.74,505.90 L968.18,504.89 L968.63,503.87 L969.07,502.81 L969.51,501.71 L969.96,500.55 L970.40,499.32 L970.84,498.01 L971.29,496.56 L971.73,494.96 L972.18,493.23 L972.62,491.39 L973.06,489.48 L973.51,487.53 L973.95,485.55 L974.39,483.59 L974.84,481.67 L975.28,479.81 L975.72,478.05 L976.17,476.38 L976.61,474.77 L977.06,473.19 L977.50,471.64 L977.94,470.12 L978.39,468.60 L978.83,467.08 L979.27,465.56 L979.72,464.01 L980.16,462.43 L980.61,460.82 L981.05,459.16 L981.49,457.48 L981.94,455.78 L982.38,454.05 L982.82,452.31 L983.27,450.56 L983.71,448.78 L984.16,446.99 L984.60,445.19 L985.04,443.37 L985.49,441.54 L985.93,439.70 L986.37,437.79 L986.82,435.81 L987.26,433.79 L987.70,431.74 L988.15,429.69 L988.59,427.67 L989.04,425.70 L989.48,423.79 L989.92,421.99 L990.37,420.30 L990.81,418.75 L991.25,417.32 L991.70,415.96 L992.14,414.64 L992.59,413.31 L993.03,411.95 L993.47,410.50 L993.92,409.01 L994.36,407.52 L994.80,406.07 L995.25,404.70 L995.69,403.46 L996.13,402.27 L996.58,401.12 L997.02,400.02 L997.47,399.02 L997.91,398.15 L998.35,397.44 L998.80,396.85 L999.24,396.34 L999.68,395.88 L1000.13,395.45 L1000.57,395.03 L1001.02,394.64 L1001.46,394.34 L1001.90,394.15 L1002.35,393.99 L1002.79,393.76 L1003.23,393.34 L1003.68,392.72 L1004.12,391.93 L1004.56,390.82 L1005.01,389.74 L1005.45,388.68" stroke="#ff0000" stroke-width="2.0"/>
</g>
<path d="M580.40,357.60 H1019.65 V632.50 H580.40 Z" fill="none" stroke="#262626" stroke-width="0.66"/>
<path d=" M615.89,632.50 v-4.20 M615.89,357.60 v4.20 M686.88,632.50 v-4.20 M686.88,357.60 v4.20 M757.87,632.50 v-4.20 M757.87,357.60 v4.20 M828.86,632.50 v-4.20 M828.86,357.60 v4.20 M899.85,632.50 v-4.20 M899.85,357.60 v4.20 M970.84,632.50 v-4.20 M970.84,357.60 v4.20 M580.40,632.50 h4.20 M1019.65,632.50 h-4.20 M580.40,590.21 h4.20 M1019.65,590.21 h-4.20 M580.40,547.92 h4.20 M1019.65,547.92 h-4.20 M580.40,505.62 h4.20 M1019.65,505.62 h-4.20 M580.40,463.33 h4.20 M1019.65,463.33 h-4.20 M580.40,421.04 h4.20 M1019.65,421.04 h-4.20 M580.40,378.75 h4.20 M1019.65,378.75 h-4.20" fill="none" stroke="#262626" stroke-width="0.5"/>
<g font-size="17.3" fill="#262626">
<text x="615.89" y="652.70" text-anchor="middle">1560</text>
<text x="686.88" y="652.70" text-anchor="middle">1640</text>
<text x="757.87" y="652.70" text-anchor="middle">1720</text>
<text x="828.86" y="652.70" text-anchor="middle">1800</text>
<text x="899.85" y="652.70" text-anchor="middle">1880</text>
<text x="970.84" y="652.70" text-anchor="middle">1960</text>
<text x="576.80" y="638.00" text-anchor="end">0.6</text>
<text x="576.80" y="595.71" text-anchor="end">0.8</text>
<text x="576.80" y="553.42" text-anchor="end">1</text>
<text x="576.80" y="511.12" text-anchor="end">1.2</text>
<text x="576.80" y="468.83" text-anchor="end">1.4</text>
<text x="576.80" y="426.54" text-anchor="end">1.6</text>
<text x="576.80" y="384.25" text-anchor="end">1.8</text>
</g>
</g>
<text x="123.7" y="26.2" textLength="770.5" lengthAdjust="spacing" font-size="21.4" fill="#262626">Solar variations, volcanic eruptions &amp; atmospheric greenhouse gas concentrations</text>
<g font-size="17.6" fill="#262626">
<text x="78.5" y="72.6" font-size="16.5">Lockwood et al. (2014)</text>
<text x="589.5" y="72.6" font-size="16.5">Crowley &amp; Unterman (2013)</text>
<text x="178" y="228.6">Maunder</text>
<text x="178" y="247.9">Minimum</text>
<text x="333.7" y="105.5" text-anchor="middle">Dalton</text>
<text x="332.7" y="124.4" text-anchor="middle">Min.</text>
</g>
<g font-size="17.5">
<text x="396.6" y="428" fill="#5c80ff">Mauna Loa</text>
<text x="907.2" y="384.6" fill="#5c80ff">Mauna Loa</text>
<text x="185" y="605.2" fill="#ff0000">PMIP3</text>
<text x="696.8" y="602.5" fill="#ff0000">PMIP3</text>
<text x="418.8" y="596.7" font-size="17.6" fill="#262626">Law Dome</text>
<text x="930" y="593" font-size="17.6" fill="#262626">Law Dome</text>
</g>
<g font-size="17.5" fill="#262626" text-anchor="middle">
<text x="290.3" y="671">Year</text>
<text x="801.3" y="671">Year</text>
<text font-size="17.65" transform="translate(27.6,188.1) rotate(-90)">Sunspot number</text>
<text font-size="17.65" transform="translate(542.6,188.1) rotate(-90)">Volcanic aerosol optical depth</text>
<text font-size="17.6" transform="translate(18.8,495) rotate(-90)">CO<tspan font-size="13.4" dy="8">2</tspan><tspan dy="-8"> concentration&#160;&#160;[ppm]</tspan></text>
<text font-size="17.6" transform="translate(534.3,495) rotate(-90)">CH<tspan font-size="13.4" dy="8">4</tspan><tspan dy="-8"> concentration&#160;&#160;[ppm]</tspan></text>
</g>
</svg>
</body></html>
